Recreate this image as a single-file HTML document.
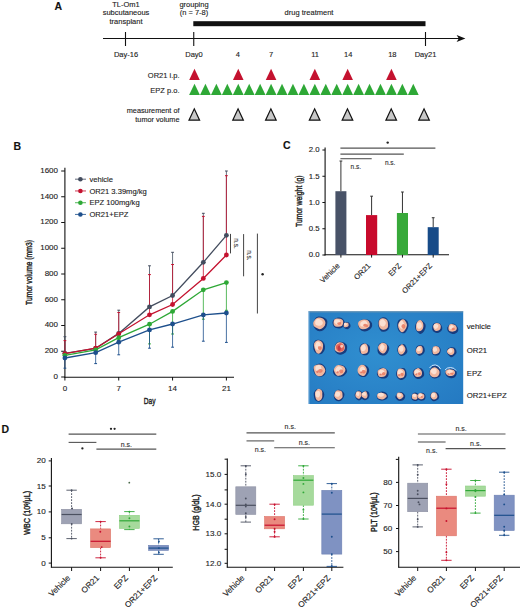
<!DOCTYPE html>
<html><head><meta charset="utf-8"><style>
html,body{margin:0;padding:0;background:#fff;}
body{width:520px;height:610px;overflow:hidden;}
svg{display:block;font-family:"Liberation Sans", sans-serif;}
svg text{stroke:#222;stroke-width:0.12px;}
svg text.ax{stroke-width:0.4px;}
</style></head><body>
<svg width="520" height="610" viewBox="0 0 520 610">
<rect width="520" height="610" fill="#fff"/>
<text x="54.40" y="10.30" font-size="10.5" text-anchor="start" fill="#111" font-weight="bold" >A</text>
<text x="126.00" y="6.70" font-size="7.5" text-anchor="middle" fill="#222" font-weight="normal" >TL-Om1</text>
<text x="126.00" y="15.30" font-size="7.5" text-anchor="middle" fill="#222" font-weight="normal" >subcutaneous</text>
<text x="126.00" y="23.90" font-size="7.5" text-anchor="middle" fill="#222" font-weight="normal" >transplant</text>
<text x="194.00" y="6.70" font-size="7.5" text-anchor="middle" fill="#222" font-weight="normal" >grouping</text>
<text x="194.00" y="15.30" font-size="7.5" text-anchor="middle" fill="#222" font-weight="normal" >(n = 7-8)</text>
<text x="309.00" y="15.30" font-size="7.5" text-anchor="middle" fill="#222" font-weight="normal" >drug treatment</text>
<rect x="193.3" y="21.2" width="232.2" height="5" fill="#111"/>
<line x1="103.00" y1="38.50" x2="459.50" y2="38.50" stroke="#111" stroke-width="1.1" />
<polygon points="456.6,34.9 465.4,38.5 456.6,42.1 458.8,38.5" fill="#111"/>
<line x1="125.50" y1="32.00" x2="125.50" y2="46.00" stroke="#111" stroke-width="1.1" />
<line x1="193.75" y1="32.00" x2="193.75" y2="46.00" stroke="#111" stroke-width="1.1" />
<line x1="425.50" y1="32.00" x2="425.50" y2="46.00" stroke="#111" stroke-width="1.1" />
<text x="126.00" y="57.20" font-size="7.5" text-anchor="middle" fill="#222" font-weight="normal" >Day-16</text>
<text x="194.00" y="57.20" font-size="7.5" text-anchor="middle" fill="#222" font-weight="normal" >Day0</text>
<text x="425.50" y="57.20" font-size="7.5" text-anchor="middle" fill="#222" font-weight="normal" >Day21</text>
<text x="237.89" y="57.20" font-size="7.5" text-anchor="middle" fill="#222" font-weight="normal" >4</text>
<text x="271.00" y="57.20" font-size="7.5" text-anchor="middle" fill="#222" font-weight="normal" >7</text>
<text x="315.14" y="57.20" font-size="7.5" text-anchor="middle" fill="#222" font-weight="normal" >11</text>
<text x="348.25" y="57.20" font-size="7.5" text-anchor="middle" fill="#222" font-weight="normal" >14</text>
<text x="392.39" y="57.20" font-size="7.5" text-anchor="middle" fill="#222" font-weight="normal" >18</text>
<text x="179.50" y="78.40" font-size="7.5" text-anchor="end" fill="#222" font-weight="normal" >OR21 i.p.</text>
<text x="179.50" y="93.40" font-size="7.5" text-anchor="end" fill="#222" font-weight="normal" >EPZ p.o.</text>
<text x="179.50" y="113.40" font-size="7.3" text-anchor="end" fill="#222" font-weight="normal" >measurement of</text>
<text x="179.50" y="122.40" font-size="7.3" text-anchor="end" fill="#222" font-weight="normal" >tumor volume</text>
<polygon points="189.20,80.00 199.80,80.00 194.50,68.80" fill="#c4122f" stroke="none" stroke-width="0" stroke-linejoin="miter"/>
<polygon points="232.96,80.00 243.56,80.00 238.26,68.80" fill="#c4122f" stroke="none" stroke-width="0" stroke-linejoin="miter"/>
<polygon points="265.78,80.00 276.38,80.00 271.08,68.80" fill="#c4122f" stroke="none" stroke-width="0" stroke-linejoin="miter"/>
<polygon points="309.54,80.00 320.14,80.00 314.84,68.80" fill="#c4122f" stroke="none" stroke-width="0" stroke-linejoin="miter"/>
<polygon points="342.36,80.00 352.96,80.00 347.66,68.80" fill="#c4122f" stroke="none" stroke-width="0" stroke-linejoin="miter"/>
<polygon points="386.12,80.00 396.72,80.00 391.42,68.80" fill="#c4122f" stroke="none" stroke-width="0" stroke-linejoin="miter"/>
<polygon points="189.10,95.00 199.90,95.00 194.50,83.80" fill="#2ea836" stroke="none" stroke-width="0" stroke-linejoin="miter"/>
<polygon points="200.04,95.00 210.84,95.00 205.44,83.80" fill="#2ea836" stroke="none" stroke-width="0" stroke-linejoin="miter"/>
<polygon points="210.98,95.00 221.78,95.00 216.38,83.80" fill="#2ea836" stroke="none" stroke-width="0" stroke-linejoin="miter"/>
<polygon points="221.92,95.00 232.72,95.00 227.32,83.80" fill="#2ea836" stroke="none" stroke-width="0" stroke-linejoin="miter"/>
<polygon points="232.86,95.00 243.66,95.00 238.26,83.80" fill="#2ea836" stroke="none" stroke-width="0" stroke-linejoin="miter"/>
<polygon points="243.80,95.00 254.60,95.00 249.20,83.80" fill="#2ea836" stroke="none" stroke-width="0" stroke-linejoin="miter"/>
<polygon points="254.74,95.00 265.54,95.00 260.14,83.80" fill="#2ea836" stroke="none" stroke-width="0" stroke-linejoin="miter"/>
<polygon points="265.68,95.00 276.48,95.00 271.08,83.80" fill="#2ea836" stroke="none" stroke-width="0" stroke-linejoin="miter"/>
<polygon points="276.62,95.00 287.42,95.00 282.02,83.80" fill="#2ea836" stroke="none" stroke-width="0" stroke-linejoin="miter"/>
<polygon points="287.56,95.00 298.36,95.00 292.96,83.80" fill="#2ea836" stroke="none" stroke-width="0" stroke-linejoin="miter"/>
<polygon points="298.50,95.00 309.30,95.00 303.90,83.80" fill="#2ea836" stroke="none" stroke-width="0" stroke-linejoin="miter"/>
<polygon points="309.44,95.00 320.24,95.00 314.84,83.80" fill="#2ea836" stroke="none" stroke-width="0" stroke-linejoin="miter"/>
<polygon points="320.38,95.00 331.18,95.00 325.78,83.80" fill="#2ea836" stroke="none" stroke-width="0" stroke-linejoin="miter"/>
<polygon points="331.32,95.00 342.12,95.00 336.72,83.80" fill="#2ea836" stroke="none" stroke-width="0" stroke-linejoin="miter"/>
<polygon points="342.26,95.00 353.06,95.00 347.66,83.80" fill="#2ea836" stroke="none" stroke-width="0" stroke-linejoin="miter"/>
<polygon points="353.20,95.00 364.00,95.00 358.60,83.80" fill="#2ea836" stroke="none" stroke-width="0" stroke-linejoin="miter"/>
<polygon points="364.14,95.00 374.94,95.00 369.54,83.80" fill="#2ea836" stroke="none" stroke-width="0" stroke-linejoin="miter"/>
<polygon points="375.08,95.00 385.88,95.00 380.48,83.80" fill="#2ea836" stroke="none" stroke-width="0" stroke-linejoin="miter"/>
<polygon points="386.02,95.00 396.82,95.00 391.42,83.80" fill="#2ea836" stroke="none" stroke-width="0" stroke-linejoin="miter"/>
<polygon points="396.96,95.00 407.76,95.00 402.36,83.80" fill="#2ea836" stroke="none" stroke-width="0" stroke-linejoin="miter"/>
<polygon points="407.90,95.00 418.70,95.00 413.30,83.80" fill="#2ea836" stroke="none" stroke-width="0" stroke-linejoin="miter"/>
<polygon points="189.00,120.20 199.60,120.20 194.30,108.80" fill="#c8c8c8" stroke="#111" stroke-width="1.2" stroke-linejoin="miter"/>
<polygon points="232.76,120.20 243.36,120.20 238.06,108.80" fill="#c8c8c8" stroke="#111" stroke-width="1.2" stroke-linejoin="miter"/>
<polygon points="265.58,120.20 276.18,120.20 270.88,108.80" fill="#c8c8c8" stroke="#111" stroke-width="1.2" stroke-linejoin="miter"/>
<polygon points="309.34,120.20 319.94,120.20 314.64,108.80" fill="#c8c8c8" stroke="#111" stroke-width="1.2" stroke-linejoin="miter"/>
<polygon points="342.16,120.20 352.76,120.20 347.46,108.80" fill="#c8c8c8" stroke="#111" stroke-width="1.2" stroke-linejoin="miter"/>
<polygon points="385.92,120.20 396.52,120.20 391.22,108.80" fill="#c8c8c8" stroke="#111" stroke-width="1.2" stroke-linejoin="miter"/>
<polygon points="418.74,120.20 429.34,120.20 424.04,108.80" fill="#c8c8c8" stroke="#111" stroke-width="1.2" stroke-linejoin="miter"/>
<text x="13.60" y="149.90" font-size="10.5" text-anchor="start" fill="#111" font-weight="bold" >B</text>
<line x1="64.90" y1="167.80" x2="64.90" y2="377.80" stroke="#111" stroke-width="1.1" />
<line x1="64.40" y1="377.30" x2="234.00" y2="377.30" stroke="#111" stroke-width="1.1" />
<line x1="61.20" y1="377.00" x2="64.90" y2="377.00" stroke="#111" stroke-width="1" />
<text x="58.00" y="378.90" font-size="8" text-anchor="end" fill="#222" font-weight="normal" >0</text>
<line x1="61.20" y1="351.25" x2="64.90" y2="351.25" stroke="#111" stroke-width="1" />
<text x="58.00" y="353.15" font-size="8" text-anchor="end" fill="#222" font-weight="normal" >200</text>
<line x1="61.20" y1="325.50" x2="64.90" y2="325.50" stroke="#111" stroke-width="1" />
<text x="58.00" y="327.40" font-size="8" text-anchor="end" fill="#222" font-weight="normal" >400</text>
<line x1="61.20" y1="299.75" x2="64.90" y2="299.75" stroke="#111" stroke-width="1" />
<text x="58.00" y="301.65" font-size="8" text-anchor="end" fill="#222" font-weight="normal" >600</text>
<line x1="61.20" y1="274.00" x2="64.90" y2="274.00" stroke="#111" stroke-width="1" />
<text x="58.00" y="275.90" font-size="8" text-anchor="end" fill="#222" font-weight="normal" >800</text>
<line x1="61.20" y1="248.25" x2="64.90" y2="248.25" stroke="#111" stroke-width="1" />
<text x="58.00" y="250.15" font-size="8" text-anchor="end" fill="#222" font-weight="normal" >1000</text>
<line x1="61.20" y1="222.50" x2="64.90" y2="222.50" stroke="#111" stroke-width="1" />
<text x="58.00" y="224.40" font-size="8" text-anchor="end" fill="#222" font-weight="normal" >1200</text>
<line x1="61.20" y1="196.75" x2="64.90" y2="196.75" stroke="#111" stroke-width="1" />
<text x="58.00" y="198.65" font-size="8" text-anchor="end" fill="#222" font-weight="normal" >1400</text>
<line x1="61.20" y1="171.00" x2="64.90" y2="171.00" stroke="#111" stroke-width="1" />
<text x="58.00" y="172.90" font-size="8" text-anchor="end" fill="#222" font-weight="normal" >1600</text>
<line x1="64.90" y1="377.00" x2="64.90" y2="380.50" stroke="#111" stroke-width="1" />
<text x="64.90" y="391.20" font-size="8" text-anchor="middle" fill="#222" font-weight="normal" >0</text>
<line x1="118.73" y1="377.00" x2="118.73" y2="380.50" stroke="#111" stroke-width="1" />
<text x="118.73" y="391.20" font-size="8" text-anchor="middle" fill="#222" font-weight="normal" >7</text>
<line x1="172.57" y1="377.00" x2="172.57" y2="380.50" stroke="#111" stroke-width="1" />
<text x="172.57" y="391.20" font-size="8" text-anchor="middle" fill="#222" font-weight="normal" >14</text>
<line x1="226.40" y1="377.00" x2="226.40" y2="380.50" stroke="#111" stroke-width="1" />
<text x="226.40" y="391.20" font-size="8" text-anchor="middle" fill="#222" font-weight="normal" >21</text>
<text x="0" y="0" font-size="9.6" text-anchor="middle" fill="#222" class="ax" transform="translate(149.6 403.7) scale(0.69 1)">Day</text>
<text x="0" y="0" text-anchor="middle" fill="#222" class="ax" transform="translate(32.3 272.5) rotate(-90) scale(0.76 1)" font-size="9">Tumor volume (mm3)</text>
<line x1="64.90" y1="353.30" x2="64.90" y2="336.70" stroke="#434c5e" stroke-width="0.8" />
<line x1="63.50" y1="336.70" x2="66.30" y2="336.70" stroke="#434c5e" stroke-width="1" />
<line x1="95.66" y1="348.30" x2="95.66" y2="332.10" stroke="#434c5e" stroke-width="0.8" />
<line x1="94.26" y1="332.10" x2="97.06" y2="332.10" stroke="#434c5e" stroke-width="1" />
<line x1="118.73" y1="333.40" x2="118.73" y2="310.20" stroke="#434c5e" stroke-width="0.8" />
<line x1="117.33" y1="310.20" x2="120.13" y2="310.20" stroke="#434c5e" stroke-width="1" />
<line x1="149.50" y1="306.90" x2="149.50" y2="265.80" stroke="#434c5e" stroke-width="0.8" />
<line x1="148.10" y1="265.80" x2="150.90" y2="265.80" stroke="#434c5e" stroke-width="1" />
<line x1="172.57" y1="295.50" x2="172.57" y2="252.30" stroke="#434c5e" stroke-width="0.8" />
<line x1="171.17" y1="252.30" x2="173.97" y2="252.30" stroke="#434c5e" stroke-width="1" />
<line x1="203.33" y1="262.30" x2="203.33" y2="213.30" stroke="#434c5e" stroke-width="0.8" />
<line x1="201.93" y1="213.30" x2="204.73" y2="213.30" stroke="#434c5e" stroke-width="1" />
<line x1="226.40" y1="235.30" x2="226.40" y2="171.00" stroke="#434c5e" stroke-width="0.8" />
<line x1="225.00" y1="171.00" x2="227.80" y2="171.00" stroke="#434c5e" stroke-width="1" />
<line x1="64.90" y1="353.70" x2="64.90" y2="340.60" stroke="#c4122f" stroke-width="0.8" />
<line x1="63.50" y1="340.60" x2="66.30" y2="340.60" stroke="#c4122f" stroke-width="1" />
<line x1="95.66" y1="348.20" x2="95.66" y2="334.30" stroke="#c4122f" stroke-width="0.8" />
<line x1="94.26" y1="334.30" x2="97.06" y2="334.30" stroke="#c4122f" stroke-width="1" />
<line x1="118.73" y1="333.80" x2="118.73" y2="312.50" stroke="#c4122f" stroke-width="0.8" />
<line x1="117.33" y1="312.50" x2="120.13" y2="312.50" stroke="#c4122f" stroke-width="1" />
<line x1="149.50" y1="314.80" x2="149.50" y2="274.60" stroke="#c4122f" stroke-width="0.8" />
<line x1="148.10" y1="274.60" x2="150.90" y2="274.60" stroke="#c4122f" stroke-width="1" />
<line x1="172.57" y1="304.50" x2="172.57" y2="264.50" stroke="#c4122f" stroke-width="0.8" />
<line x1="171.17" y1="264.50" x2="173.97" y2="264.50" stroke="#c4122f" stroke-width="1" />
<line x1="203.33" y1="278.40" x2="203.33" y2="216.40" stroke="#c4122f" stroke-width="0.8" />
<line x1="201.93" y1="216.40" x2="204.73" y2="216.40" stroke="#c4122f" stroke-width="1" />
<line x1="226.40" y1="255.00" x2="226.40" y2="175.70" stroke="#c4122f" stroke-width="0.8" />
<line x1="225.00" y1="175.70" x2="227.80" y2="175.70" stroke="#c4122f" stroke-width="1" />
<line x1="64.90" y1="355.30" x2="64.90" y2="357.00" stroke="#2ea836" stroke-width="0.8" />
<line x1="63.50" y1="357.00" x2="66.30" y2="357.00" stroke="#2ea836" stroke-width="1" />
<line x1="95.66" y1="349.80" x2="95.66" y2="351.50" stroke="#2ea836" stroke-width="0.8" />
<line x1="94.26" y1="351.50" x2="97.06" y2="351.50" stroke="#2ea836" stroke-width="1" />
<line x1="118.73" y1="337.70" x2="118.73" y2="340.00" stroke="#2ea836" stroke-width="0.8" />
<line x1="117.33" y1="340.00" x2="120.13" y2="340.00" stroke="#2ea836" stroke-width="1" />
<line x1="149.50" y1="324.20" x2="149.50" y2="343.90" stroke="#2ea836" stroke-width="0.8" />
<line x1="148.10" y1="343.90" x2="150.90" y2="343.90" stroke="#2ea836" stroke-width="1" />
<line x1="172.57" y1="311.40" x2="172.57" y2="334.00" stroke="#2ea836" stroke-width="0.8" />
<line x1="171.17" y1="334.00" x2="173.97" y2="334.00" stroke="#2ea836" stroke-width="1" />
<line x1="203.33" y1="289.80" x2="203.33" y2="319.20" stroke="#2ea836" stroke-width="0.8" />
<line x1="201.93" y1="319.20" x2="204.73" y2="319.20" stroke="#2ea836" stroke-width="1" />
<line x1="226.40" y1="282.60" x2="226.40" y2="310.30" stroke="#2ea836" stroke-width="0.8" />
<line x1="225.00" y1="310.30" x2="227.80" y2="310.30" stroke="#2ea836" stroke-width="1" />
<line x1="64.90" y1="358.00" x2="64.90" y2="368.20" stroke="#1d4f8c" stroke-width="0.8" />
<line x1="63.50" y1="368.20" x2="66.30" y2="368.20" stroke="#1d4f8c" stroke-width="1" />
<line x1="95.66" y1="352.70" x2="95.66" y2="363.60" stroke="#1d4f8c" stroke-width="0.8" />
<line x1="94.26" y1="363.60" x2="97.06" y2="363.60" stroke="#1d4f8c" stroke-width="1" />
<line x1="118.73" y1="342.20" x2="118.73" y2="354.80" stroke="#1d4f8c" stroke-width="0.8" />
<line x1="117.33" y1="354.80" x2="120.13" y2="354.80" stroke="#1d4f8c" stroke-width="1" />
<line x1="149.50" y1="329.90" x2="149.50" y2="348.20" stroke="#1d4f8c" stroke-width="0.8" />
<line x1="148.10" y1="348.20" x2="150.90" y2="348.20" stroke="#1d4f8c" stroke-width="1" />
<line x1="172.57" y1="324.00" x2="172.57" y2="347.20" stroke="#1d4f8c" stroke-width="0.8" />
<line x1="171.17" y1="347.20" x2="173.97" y2="347.20" stroke="#1d4f8c" stroke-width="1" />
<line x1="203.33" y1="314.90" x2="203.33" y2="341.20" stroke="#1d4f8c" stroke-width="0.8" />
<line x1="201.93" y1="341.20" x2="204.73" y2="341.20" stroke="#1d4f8c" stroke-width="1" />
<line x1="226.40" y1="313.00" x2="226.40" y2="342.40" stroke="#1d4f8c" stroke-width="0.8" />
<line x1="225.00" y1="342.40" x2="227.80" y2="342.40" stroke="#1d4f8c" stroke-width="1" />
<polyline points="64.90,353.30 95.66,348.30 118.73,333.40 149.50,306.90 172.57,295.50 203.33,262.30 226.40,235.30" fill="none" stroke="#434c5e" stroke-width="1.3"/>
<circle cx="64.90" cy="353.30" r="2.4" fill="#434c5e"/>
<circle cx="95.66" cy="348.30" r="2.4" fill="#434c5e"/>
<circle cx="118.73" cy="333.40" r="2.4" fill="#434c5e"/>
<circle cx="149.50" cy="306.90" r="2.4" fill="#434c5e"/>
<circle cx="172.57" cy="295.50" r="2.4" fill="#434c5e"/>
<circle cx="203.33" cy="262.30" r="2.4" fill="#434c5e"/>
<circle cx="226.40" cy="235.30" r="2.4" fill="#434c5e"/>
<polyline points="64.90,353.70 95.66,348.20 118.73,333.80 149.50,314.80 172.57,304.50 203.33,278.40 226.40,255.00" fill="none" stroke="#c4122f" stroke-width="1.3"/>
<circle cx="64.90" cy="353.70" r="2.4" fill="#c4122f"/>
<circle cx="95.66" cy="348.20" r="2.4" fill="#c4122f"/>
<circle cx="118.73" cy="333.80" r="2.4" fill="#c4122f"/>
<circle cx="149.50" cy="314.80" r="2.4" fill="#c4122f"/>
<circle cx="172.57" cy="304.50" r="2.4" fill="#c4122f"/>
<circle cx="203.33" cy="278.40" r="2.4" fill="#c4122f"/>
<circle cx="226.40" cy="255.00" r="2.4" fill="#c4122f"/>
<polyline points="64.90,355.30 95.66,349.80 118.73,337.70 149.50,324.20 172.57,311.40 203.33,289.80 226.40,282.60" fill="none" stroke="#2ea836" stroke-width="1.3"/>
<circle cx="64.90" cy="355.30" r="2.4" fill="#2ea836"/>
<circle cx="95.66" cy="349.80" r="2.4" fill="#2ea836"/>
<circle cx="118.73" cy="337.70" r="2.4" fill="#2ea836"/>
<circle cx="149.50" cy="324.20" r="2.4" fill="#2ea836"/>
<circle cx="172.57" cy="311.40" r="2.4" fill="#2ea836"/>
<circle cx="203.33" cy="289.80" r="2.4" fill="#2ea836"/>
<circle cx="226.40" cy="282.60" r="2.4" fill="#2ea836"/>
<polyline points="64.90,358.00 95.66,352.70 118.73,342.20 149.50,329.90 172.57,324.00 203.33,314.90 226.40,313.00" fill="none" stroke="#1d4f8c" stroke-width="1.3"/>
<circle cx="64.90" cy="358.00" r="2.4" fill="#1d4f8c"/>
<circle cx="95.66" cy="352.70" r="2.4" fill="#1d4f8c"/>
<circle cx="118.73" cy="342.20" r="2.4" fill="#1d4f8c"/>
<circle cx="149.50" cy="329.90" r="2.4" fill="#1d4f8c"/>
<circle cx="172.57" cy="324.00" r="2.4" fill="#1d4f8c"/>
<circle cx="203.33" cy="314.90" r="2.4" fill="#1d4f8c"/>
<circle cx="226.40" cy="313.00" r="2.4" fill="#1d4f8c"/>
<line x1="75.00" y1="179.20" x2="86.00" y2="179.20" stroke="#434c5e" stroke-width="1.1" opacity="0.75"/>
<circle cx="80.4" cy="179.20" r="2.3" fill="#434c5e"/>
<text x="89.40" y="181.80" font-size="7.6" text-anchor="start" fill="#222" font-weight="normal" >vehicle</text>
<line x1="75.00" y1="190.95" x2="86.00" y2="190.95" stroke="#c4122f" stroke-width="1.1" opacity="0.75"/>
<circle cx="80.4" cy="190.95" r="2.3" fill="#c4122f"/>
<text x="89.40" y="193.55" font-size="7.6" text-anchor="start" fill="#222" font-weight="normal" >OR21 3.39mg/kg</text>
<line x1="75.00" y1="202.70" x2="86.00" y2="202.70" stroke="#2ea836" stroke-width="1.1" opacity="0.75"/>
<circle cx="80.4" cy="202.70" r="2.3" fill="#2ea836"/>
<text x="89.40" y="205.30" font-size="7.6" text-anchor="start" fill="#222" font-weight="normal" >EPZ 100mg/kg</text>
<line x1="75.00" y1="214.45" x2="86.00" y2="214.45" stroke="#1d4f8c" stroke-width="1.1" opacity="0.75"/>
<circle cx="80.4" cy="214.45" r="2.3" fill="#1d4f8c"/>
<text x="89.40" y="217.05" font-size="7.6" text-anchor="start" fill="#222" font-weight="normal" >OR21+EPZ</text>
<line x1="230.50" y1="233.90" x2="230.50" y2="253.40" stroke="#444" stroke-width="1" />
<line x1="243.60" y1="234.10" x2="243.60" y2="276.30" stroke="#444" stroke-width="1" />
<line x1="257.40" y1="233.60" x2="257.40" y2="313.50" stroke="#444" stroke-width="1" />
<text x="0" y="0" font-size="6.5" text-anchor="middle" fill="#333" transform="translate(233.6 243.5) rotate(90)">n.s.</text>
<text x="0" y="0" font-size="6.5" text-anchor="middle" fill="#333" transform="translate(247.1 255.4) rotate(90)">n.s.</text>
<circle cx="262.6" cy="274.2" r="1.2" fill="#222"/>
<text x="283.00" y="149.40" font-size="10.5" text-anchor="start" fill="#111" font-weight="bold" >C</text>
<line x1="325.10" y1="147.50" x2="325.10" y2="255.50" stroke="#111" stroke-width="1.1" />
<line x1="324.60" y1="254.70" x2="449.00" y2="254.70" stroke="#111" stroke-width="1.1" />
<line x1="322.40" y1="255.00" x2="325.10" y2="255.00" stroke="#111" stroke-width="1" />
<text x="319.60" y="257.30" font-size="7.8" text-anchor="end" fill="#222" font-weight="normal" >0.0</text>
<line x1="322.40" y1="228.75" x2="325.10" y2="228.75" stroke="#111" stroke-width="1" />
<text x="319.60" y="231.05" font-size="7.8" text-anchor="end" fill="#222" font-weight="normal" >0.5</text>
<line x1="322.40" y1="202.50" x2="325.10" y2="202.50" stroke="#111" stroke-width="1" />
<text x="319.60" y="204.80" font-size="7.8" text-anchor="end" fill="#222" font-weight="normal" >1.0</text>
<line x1="322.40" y1="176.25" x2="325.10" y2="176.25" stroke="#111" stroke-width="1" />
<text x="319.60" y="178.55" font-size="7.8" text-anchor="end" fill="#222" font-weight="normal" >1.5</text>
<line x1="322.40" y1="150.00" x2="325.10" y2="150.00" stroke="#111" stroke-width="1" />
<text x="319.60" y="152.30" font-size="7.8" text-anchor="end" fill="#222" font-weight="normal" >2.0</text>
<text x="0" y="0" font-size="9" text-anchor="middle" fill="#222" class="ax" transform="translate(301.6 201.2) rotate(-90) scale(0.765 1)">Tumor weight (g)</text>
<rect x="335.4" y="191.21" width="11.00" height="63.79" fill="#485267"/>
<line x1="340.90" y1="191.21" x2="340.90" y2="161.02" stroke="#333" stroke-width="1" />
<line x1="339.50" y1="161.02" x2="342.30" y2="161.02" stroke="#333" stroke-width="1" />
<line x1="340.90" y1="254.70" x2="340.90" y2="257.60" stroke="#111" stroke-width="1" />
<text x="0" y="0" font-size="7.6" text-anchor="end" fill="#222" transform="translate(340.30 266.3) rotate(-45)">Vehicle</text>
<rect x="366" y="215.10" width="11.20" height="39.90" fill="#c80a2c"/>
<line x1="371.60" y1="215.10" x2="371.60" y2="196.20" stroke="#333" stroke-width="1" />
<line x1="370.20" y1="196.20" x2="373.00" y2="196.20" stroke="#333" stroke-width="1" />
<line x1="371.60" y1="254.70" x2="371.60" y2="257.60" stroke="#111" stroke-width="1" />
<text x="0" y="0" font-size="7.6" text-anchor="end" fill="#222" transform="translate(371.00 266.3) rotate(-45)">OR21</text>
<rect x="396.9" y="213.00" width="11.10" height="42.00" fill="#38a93a"/>
<line x1="402.45" y1="213.00" x2="402.45" y2="192.00" stroke="#333" stroke-width="1" />
<line x1="401.05" y1="192.00" x2="403.85" y2="192.00" stroke="#333" stroke-width="1" />
<line x1="402.45" y1="254.70" x2="402.45" y2="257.60" stroke="#111" stroke-width="1" />
<text x="0" y="0" font-size="7.6" text-anchor="end" fill="#222" transform="translate(401.85 266.3) rotate(-45)">EPZ</text>
<rect x="427.7" y="227.18" width="11.00" height="27.82" fill="#174b88"/>
<line x1="433.20" y1="227.18" x2="433.20" y2="217.72" stroke="#333" stroke-width="1" />
<line x1="431.80" y1="217.72" x2="434.60" y2="217.72" stroke="#333" stroke-width="1" />
<line x1="433.20" y1="254.70" x2="433.20" y2="257.60" stroke="#111" stroke-width="1" />
<text x="0" y="0" font-size="7.6" text-anchor="end" fill="#222" transform="translate(432.60 266.3) rotate(-45)">OR21+EPZ</text>
<line x1="340.40" y1="148.10" x2="435.40" y2="148.10" stroke="#555" stroke-width="1.1" />
<line x1="340.40" y1="154.10" x2="403.80" y2="154.10" stroke="#555" stroke-width="1.1" />
<line x1="340.40" y1="158.70" x2="371.70" y2="158.70" stroke="#555" stroke-width="1.1" />
<circle cx="387.7" cy="142.6" r="1.2" fill="#222"/>
<text x="355.80" y="168.70" font-size="6.5" text-anchor="middle" fill="#333" font-weight="normal" >n.s.</text>
<text x="390.20" y="164.60" font-size="6.5" text-anchor="middle" fill="#333" font-weight="normal" >n.s.</text>
<defs><radialGradient id="pg" cx="0.45" cy="0.45" r="0.75"><stop offset="0" stop-color="#308fd0"/><stop offset="1" stop-color="#257ac2"/></radialGradient></defs>
<rect x="308.6" y="311.2" width="154.6" height="92.8" fill="url(#pg)"/>
<rect x="308.6" y="311.2" width="154.6" height="1.2" fill="#7898b0" opacity="0.8"/>
<rect x="308.6" y="311.2" width="1" height="92.8" fill="#7fb0d8" opacity="0.7"/>
<text x="466.70" y="329.30" font-size="7.8" text-anchor="start" fill="#222" font-weight="normal" >vehicle</text>
<text x="466.70" y="353.00" font-size="7.8" text-anchor="start" fill="#222" font-weight="normal" >OR21</text>
<text x="466.70" y="375.60" font-size="7.8" text-anchor="start" fill="#222" font-weight="normal" >EPZ</text>
<text x="466.70" y="398.00" font-size="7.8" text-anchor="start" fill="#222" font-weight="normal" >OR21+EPZ</text>
<path d="M327.28 321.01 Q327.65 323.41 326.65 326.09 Q325.65 328.78 323.60 330.10 Q321.54 331.43 319.43 331.27 Q317.32 331.11 315.40 329.29 Q313.48 327.46 313.33 324.83 Q313.19 322.19 314.61 319.44 Q316.04 316.70 318.40 316.48 Q320.76 316.26 323.83 317.44 Q326.90 318.61 327.28 321.01 Z" fill="#13296a" opacity="0.8"/>
<path d="M325.01 321.03 Q326.18 323.35 324.87 325.41 Q323.56 327.47 321.89 328.45 Q320.21 329.43 318.83 329.01 Q317.45 328.58 315.29 327.35 Q313.12 326.12 313.18 323.80 Q313.24 321.48 315.05 319.49 Q316.87 317.51 318.87 317.52 Q320.87 317.54 322.35 318.13 Q323.83 318.72 325.01 321.03 Z" fill="#f1b79f"/>
<path d="M322.47 321.52 Q323.07 322.60 322.66 323.84 Q322.25 325.08 320.70 325.53 Q319.15 325.97 317.43 325.53 Q315.71 325.09 315.31 323.90 Q314.90 322.71 315.35 320.96 Q315.80 319.22 317.58 319.03 Q319.36 318.85 320.62 319.64 Q321.88 320.43 322.47 321.52 Z" fill="#fbe0d2"/>
<path d="M344.33 321.10 Q345.16 322.95 344.48 324.65 Q343.80 326.34 342.16 327.55 Q340.52 328.77 337.68 328.35 Q334.83 327.93 333.65 326.18 Q332.46 324.42 332.50 322.59 Q332.54 320.77 334.00 319.41 Q335.46 318.04 337.91 317.58 Q340.37 317.12 341.94 318.18 Q343.50 319.24 344.33 321.10 Z" fill="#13296a" opacity="0.8"/>
<path d="M342.91 320.46 Q343.49 321.86 342.96 323.98 Q342.44 326.10 340.41 326.43 Q338.38 326.77 336.90 326.77 Q335.42 326.78 334.45 325.71 Q333.47 324.65 333.53 323.08 Q333.58 321.50 334.07 320.02 Q334.56 318.54 336.43 318.41 Q338.30 318.28 340.32 318.67 Q342.33 319.06 342.91 320.46 Z" fill="#f1b79f"/>
<path d="M339.91 320.53 Q340.43 321.37 340.16 322.64 Q339.89 323.91 338.42 324.33 Q336.95 324.74 336.10 324.19 Q335.25 323.64 334.42 322.74 Q333.58 321.83 334.60 320.85 Q335.63 319.87 336.32 319.60 Q337.02 319.33 338.20 319.51 Q339.38 319.68 339.91 320.53 Z" fill="#fbe0d2"/>
<path d="M341.06 322.78 Q341.13 323.46 340.95 323.98 Q340.76 324.50 339.83 324.80 Q338.90 325.10 338.02 324.54 Q337.13 323.98 337.23 323.32 Q337.32 322.65 338.17 322.40 Q339.02 322.15 340.01 322.12 Q340.99 322.10 341.06 322.78 Z" fill="#e8795f" opacity="0.85"/>
<path d="M350.20 324.32 Q350.86 326.05 350.33 326.98 Q349.79 327.91 348.84 328.61 Q347.88 329.32 346.58 329.09 Q345.28 328.87 344.27 327.99 Q343.27 327.12 343.21 325.84 Q343.15 324.55 343.75 323.67 Q344.34 322.80 345.63 322.34 Q346.91 321.89 348.22 322.24 Q349.53 322.60 350.20 324.32 Z" fill="#13296a" opacity="0.8"/>
<path d="M348.51 323.93 Q348.68 325.08 348.52 325.76 Q348.36 326.44 347.54 326.84 Q346.73 327.23 345.51 327.33 Q344.29 327.44 343.94 326.67 Q343.59 325.91 343.71 325.20 Q343.82 324.49 344.31 323.74 Q344.80 322.98 345.84 322.87 Q346.87 322.77 347.60 322.77 Q348.34 322.78 348.51 323.93 Z" fill="#f1b79f"/>
<path d="M346.76 323.71 Q346.99 324.21 346.74 324.64 Q346.48 325.08 345.98 325.54 Q345.48 326.00 344.76 325.61 Q344.04 325.22 343.95 324.76 Q343.86 324.30 343.94 323.72 Q344.01 323.14 344.76 322.83 Q345.52 322.52 346.03 322.86 Q346.53 323.20 346.76 323.71 Z" fill="#fbe0d2"/>
<path d="M372.03 323.57 Q372.64 325.74 371.36 327.84 Q370.09 329.93 367.70 330.83 Q365.31 331.72 363.42 331.31 Q361.53 330.90 359.95 329.13 Q358.38 327.36 358.05 325.60 Q357.71 323.83 359.07 321.73 Q360.42 319.64 363.68 319.35 Q366.95 319.06 369.19 320.23 Q371.43 321.39 372.03 323.57 Z" fill="#13296a" opacity="0.8"/>
<path d="M369.64 323.33 Q370.08 325.18 369.45 326.21 Q368.82 327.24 367.25 328.14 Q365.67 329.04 363.08 329.26 Q360.48 329.47 359.35 327.62 Q358.23 325.76 358.08 324.04 Q357.93 322.31 359.10 321.22 Q360.26 320.14 363.22 319.61 Q366.18 319.08 367.69 320.28 Q369.20 321.49 369.64 323.33 Z" fill="#f1b79f"/>
<path d="M367.00 322.21 Q367.77 323.38 367.23 324.67 Q366.69 325.97 364.84 326.26 Q362.98 326.56 361.69 326.42 Q360.39 326.29 360.28 324.91 Q360.17 323.52 360.54 322.80 Q360.91 322.08 362.47 321.21 Q364.02 320.34 365.13 320.69 Q366.23 321.05 367.00 322.21 Z" fill="#fbe0d2"/>
<path d="M367.81 325.11 Q368.40 325.83 367.91 326.41 Q367.42 326.98 366.48 326.97 Q365.54 326.95 364.37 326.55 Q363.21 326.15 363.13 325.34 Q363.04 324.54 364.04 323.96 Q365.04 323.39 366.13 323.89 Q367.23 324.39 367.81 325.11 Z" fill="#e8795f" opacity="0.85"/>
<path d="M389.19 321.99 Q389.98 323.95 389.55 326.47 Q389.11 328.98 387.30 330.38 Q385.49 331.77 383.42 331.85 Q381.35 331.92 379.83 329.65 Q378.31 327.39 378.08 324.47 Q377.86 321.54 379.21 319.56 Q380.56 317.58 382.82 317.28 Q385.09 316.98 386.75 318.50 Q388.41 320.03 389.19 321.99 Z" fill="#13296a" opacity="0.8"/>
<path d="M387.79 321.99 Q387.99 323.80 388.08 325.68 Q388.17 327.56 386.50 328.79 Q384.84 330.01 382.75 329.66 Q380.66 329.31 379.77 327.86 Q378.87 326.41 378.64 323.91 Q378.41 321.40 379.43 320.04 Q380.45 318.67 382.20 318.33 Q383.96 317.99 385.77 319.09 Q387.59 320.19 387.79 321.99 Z" fill="#f1b79f"/>
<path d="M385.62 322.12 Q386.22 323.18 385.44 324.57 Q384.66 325.96 383.68 326.39 Q382.70 326.82 381.56 326.37 Q380.43 325.92 380.04 324.54 Q379.66 323.15 379.93 321.59 Q380.20 320.03 381.61 319.43 Q383.01 318.84 384.02 319.95 Q385.03 321.06 385.62 322.12 Z" fill="#fbe0d2"/>
<path d="M408.41 323.61 Q408.91 326.05 407.71 328.68 Q406.51 331.31 405.42 332.40 Q404.33 333.50 402.45 333.24 Q400.56 332.98 398.98 331.32 Q397.41 329.67 397.26 326.00 Q397.10 322.32 398.14 320.76 Q399.18 319.20 401.54 318.87 Q403.91 318.54 405.91 319.85 Q407.90 321.16 408.41 323.61 Z" fill="#13296a" opacity="0.8"/>
<path d="M406.27 322.57 Q407.45 324.65 406.62 327.07 Q405.80 329.49 404.07 331.16 Q402.34 332.82 401.35 332.09 Q400.36 331.37 399.23 329.42 Q398.09 327.48 398.05 325.57 Q398.01 323.67 399.25 321.90 Q400.48 320.14 401.77 319.44 Q403.06 318.75 404.08 319.62 Q405.10 320.50 406.27 322.57 Z" fill="#f1b79f"/>
<path d="M403.93 323.44 Q404.36 324.65 404.28 326.01 Q404.20 327.37 402.70 328.27 Q401.21 329.17 400.55 328.24 Q399.90 327.31 399.13 326.21 Q398.36 325.10 399.01 323.70 Q399.67 322.29 400.55 321.10 Q401.42 319.91 402.46 321.07 Q403.49 322.23 403.93 323.44 Z" fill="#fbe0d2"/>
<path d="M405.02 325.27 Q405.56 326.35 405.07 327.57 Q404.58 328.80 403.89 328.68 Q403.21 328.56 402.46 328.06 Q401.71 327.56 401.47 326.64 Q401.22 325.72 402.09 324.81 Q402.96 323.89 403.72 324.04 Q404.48 324.20 405.02 325.27 Z" fill="#e8795f" opacity="0.85"/>
<path d="M425.34 324.28 Q426.08 325.81 425.25 328.52 Q424.43 331.23 422.79 332.81 Q421.14 334.39 419.52 333.64 Q417.89 332.89 416.52 331.00 Q415.14 329.11 415.09 327.17 Q415.05 325.23 415.99 323.31 Q416.94 321.38 418.89 320.63 Q420.84 319.87 422.72 321.31 Q424.60 322.76 425.34 324.28 Z" fill="#13296a" opacity="0.8"/>
<path d="M423.32 324.19 Q423.65 326.20 423.15 327.74 Q422.66 329.28 421.64 330.20 Q420.62 331.11 418.91 331.18 Q417.20 331.26 416.48 330.00 Q415.76 328.75 416.02 326.26 Q416.29 323.78 417.10 322.32 Q417.91 320.86 419.23 320.26 Q420.54 319.66 421.76 320.92 Q422.99 322.19 423.32 324.19 Z" fill="#f1b79f"/>
<path d="M421.58 323.96 Q422.25 325.63 421.77 326.84 Q421.29 328.05 420.05 328.56 Q418.82 329.06 418.03 328.42 Q417.24 327.78 416.97 326.79 Q416.70 325.80 416.66 324.43 Q416.63 323.07 417.73 322.73 Q418.83 322.40 419.86 322.34 Q420.90 322.28 421.58 323.96 Z" fill="#fbe0d2"/>
<path d="M441.71 326.09 Q442.71 328.43 442.04 329.67 Q441.38 330.92 439.92 332.02 Q438.46 333.11 436.74 332.94 Q435.01 332.78 433.46 331.49 Q431.91 330.21 432.15 327.70 Q432.40 325.19 433.16 324.06 Q433.92 322.92 435.87 322.69 Q437.82 322.46 439.26 323.11 Q440.71 323.75 441.71 326.09 Z" fill="#13296a" opacity="0.8"/>
<path d="M440.70 325.76 Q440.90 327.17 440.53 328.41 Q440.15 329.66 439.04 330.32 Q437.93 330.97 436.52 331.00 Q435.12 331.03 434.33 329.97 Q433.55 328.90 433.29 327.49 Q433.02 326.07 433.85 324.73 Q434.68 323.39 436.23 323.11 Q437.79 322.82 439.14 323.58 Q440.50 324.35 440.70 325.76 Z" fill="#f1b79f"/>
<path d="M438.26 325.36 Q438.42 326.32 437.88 327.22 Q437.34 328.12 436.58 328.58 Q435.81 329.03 435.02 328.84 Q434.22 328.65 433.75 327.37 Q433.28 326.09 433.68 325.19 Q434.08 324.28 434.90 324.09 Q435.72 323.90 436.90 324.15 Q438.09 324.40 438.26 325.36 Z" fill="#fbe0d2"/>
<path d="M457.78 327.46 Q458.78 329.32 458.05 330.96 Q457.32 332.60 455.37 333.46 Q453.41 334.33 451.91 333.82 Q450.40 333.31 449.01 332.23 Q447.62 331.14 447.18 329.32 Q446.75 327.50 448.29 325.74 Q449.83 323.98 451.89 323.67 Q453.96 323.37 455.37 324.48 Q456.78 325.59 457.78 327.46 Z" fill="#13296a" opacity="0.8"/>
<path d="M456.53 326.96 Q457.15 328.60 456.45 329.77 Q455.76 330.93 454.23 331.36 Q452.70 331.79 451.26 331.60 Q449.83 331.40 449.12 330.69 Q448.42 329.98 448.41 328.32 Q448.39 326.66 449.14 325.25 Q449.89 323.85 451.42 324.03 Q452.96 324.22 454.44 324.77 Q455.91 325.32 456.53 326.96 Z" fill="#f1b79f"/>
<path d="M453.96 326.76 Q454.48 327.60 453.79 328.25 Q453.10 328.89 452.44 329.24 Q451.77 329.58 450.64 329.23 Q449.51 328.87 449.36 328.11 Q449.20 327.36 449.32 326.71 Q449.45 326.06 450.55 325.42 Q451.66 324.78 452.55 325.34 Q453.44 325.91 453.96 326.76 Z" fill="#fbe0d2"/>
<path d="M454.75 328.51 Q455.16 329.05 454.72 329.52 Q454.29 329.99 453.56 330.12 Q452.82 330.25 452.02 329.92 Q451.21 329.59 451.42 329.10 Q451.63 328.60 452.34 327.89 Q453.06 327.19 453.70 327.59 Q454.35 327.98 454.75 328.51 Z" fill="#e8795f" opacity="0.85"/>
<path d="M324.36 343.69 Q325.62 346.35 324.88 349.08 Q324.14 351.81 322.44 353.36 Q320.73 354.91 318.08 354.02 Q315.42 353.13 314.21 351.13 Q312.99 349.13 313.13 346.24 Q313.28 343.35 314.27 341.68 Q315.25 340.01 317.61 339.87 Q319.97 339.72 321.54 340.38 Q323.10 341.04 324.36 343.69 Z" fill="#13296a" opacity="0.8"/>
<path d="M323.04 344.60 Q323.18 346.40 322.81 348.28 Q322.45 350.15 321.10 352.05 Q319.76 353.95 318.14 353.69 Q316.53 353.44 315.38 350.71 Q314.24 347.98 314.00 345.55 Q313.76 343.12 315.21 341.85 Q316.67 340.58 317.91 340.24 Q319.16 339.90 321.02 341.35 Q322.89 342.80 323.04 344.60 Z" fill="#f1b79f"/>
<path d="M320.67 344.22 Q320.81 345.54 320.26 346.70 Q319.71 347.86 318.97 349.03 Q318.22 350.21 316.81 349.72 Q315.40 349.23 315.20 347.60 Q315.00 345.97 315.44 344.59 Q315.89 343.21 316.77 342.09 Q317.66 340.97 319.10 341.94 Q320.53 342.90 320.67 344.22 Z" fill="#fbe0d2"/>
<path d="M321.54 347.24 Q322.16 348.00 321.48 349.03 Q320.81 350.06 320.06 349.89 Q319.31 349.72 318.62 349.25 Q317.94 348.78 317.92 347.66 Q317.89 346.55 318.60 346.29 Q319.31 346.04 320.11 346.25 Q320.92 346.47 321.54 347.24 Z" fill="#e8795f" opacity="0.85"/>
<path d="M347.09 346.08 Q347.33 348.14 346.85 350.36 Q346.37 352.59 343.64 353.81 Q340.91 355.02 339.03 354.50 Q337.15 353.99 335.76 352.23 Q334.38 350.47 334.42 348.51 Q334.47 346.54 335.51 344.28 Q336.54 342.01 339.18 341.76 Q341.82 341.52 344.34 342.77 Q346.85 344.02 347.09 346.08 Z" fill="#13296a" opacity="0.8"/>
<path d="M344.43 345.54 Q345.15 347.52 344.68 349.02 Q344.20 350.52 342.74 351.56 Q341.27 352.60 339.62 352.56 Q337.97 352.51 336.11 351.13 Q334.24 349.74 334.74 347.49 Q335.24 345.24 336.25 343.89 Q337.25 342.53 339.09 342.29 Q340.93 342.06 342.32 342.81 Q343.71 343.56 344.43 345.54 Z" fill="#f1b79f"/>
<path d="M344.01 346.61 Q344.10 348.18 343.94 349.47 Q343.77 350.76 342.12 351.32 Q340.47 351.88 339.43 351.69 Q338.39 351.50 337.25 350.41 Q336.11 349.32 335.95 347.23 Q335.80 345.15 337.24 344.54 Q338.68 343.94 339.52 343.25 Q340.36 342.57 342.14 343.80 Q343.92 345.04 344.01 346.61 Z" fill="#e2645a"/>
<path d="M340.75 347.13 Q340.77 348.16 340.73 349.31 Q340.69 350.47 339.59 350.72 Q338.49 350.98 338.01 349.90 Q337.52 348.82 337.56 348.09 Q337.60 347.36 338.17 346.34 Q338.75 345.32 339.74 345.71 Q340.74 346.10 340.75 347.13 Z" fill="#c23a44"/>
<path d="M343.22 345.42 Q343.56 346.19 343.17 346.84 Q342.79 347.50 342.16 347.78 Q341.54 348.06 340.77 347.60 Q340.01 347.14 340.17 346.24 Q340.34 345.33 340.77 344.96 Q341.20 344.59 342.04 344.63 Q342.89 344.66 343.22 345.42 Z" fill="#f6c8b8"/>
<path d="M370.01 347.20 Q370.16 348.68 369.70 351.24 Q369.25 353.80 367.56 354.73 Q365.87 355.67 363.85 355.16 Q361.84 354.65 360.58 353.35 Q359.32 352.05 359.34 349.12 Q359.36 346.19 360.87 344.73 Q362.37 343.28 363.80 343.14 Q365.24 343.00 367.55 344.36 Q369.86 345.72 370.01 347.20 Z" fill="#13296a" opacity="0.8"/>
<path d="M367.82 347.07 Q368.17 348.53 368.09 350.53 Q368.00 352.53 366.53 353.15 Q365.05 353.77 363.18 353.91 Q361.30 354.05 360.93 352.40 Q360.57 350.76 360.20 348.98 Q359.82 347.21 361.05 345.79 Q362.28 344.37 363.90 343.73 Q365.52 343.08 366.49 344.34 Q367.46 345.60 367.82 347.07 Z" fill="#f1b79f"/>
<path d="M365.71 347.02 Q366.17 348.41 365.66 349.31 Q365.15 350.20 364.46 350.85 Q363.77 351.51 362.49 351.17 Q361.22 350.82 361.09 349.41 Q360.95 348.00 361.15 347.01 Q361.35 346.01 362.51 345.12 Q363.67 344.24 364.46 344.93 Q365.25 345.62 365.71 347.02 Z" fill="#fbe0d2"/>
<path d="M388.86 346.53 Q389.73 348.33 388.83 350.53 Q387.93 352.72 386.50 354.23 Q385.08 355.75 382.28 355.43 Q379.48 355.12 378.28 353.13 Q377.07 351.14 377.60 348.46 Q378.12 345.78 378.85 344.25 Q379.58 342.72 382.12 342.63 Q384.66 342.54 386.33 343.64 Q387.99 344.73 388.86 346.53 Z" fill="#13296a" opacity="0.8"/>
<path d="M387.09 346.01 Q387.34 348.19 386.74 349.71 Q386.13 351.24 385.01 352.60 Q383.89 353.95 382.05 353.26 Q380.21 352.57 379.38 351.05 Q378.54 349.53 378.15 347.97 Q377.75 346.41 379.30 344.73 Q380.86 343.06 381.92 342.76 Q382.99 342.46 384.91 343.14 Q386.83 343.83 387.09 346.01 Z" fill="#f1b79f"/>
<path d="M384.41 346.28 Q384.90 347.30 384.25 348.56 Q383.59 349.82 382.89 350.67 Q382.19 351.51 381.22 350.48 Q380.25 349.44 379.96 348.72 Q379.67 348.00 380.06 346.56 Q380.45 345.12 381.40 344.35 Q382.36 343.58 383.14 344.42 Q383.92 345.26 384.41 346.28 Z" fill="#fbe0d2"/>
<path d="M406.85 348.42 Q407.65 350.88 407.19 352.35 Q406.73 353.82 405.05 354.87 Q403.38 355.91 401.76 356.01 Q400.14 356.10 398.48 353.77 Q396.82 351.43 397.30 349.37 Q397.78 347.30 398.46 346.07 Q399.15 344.83 401.56 344.20 Q403.98 343.57 405.02 344.76 Q406.06 345.96 406.85 348.42 Z" fill="#13296a" opacity="0.8"/>
<path d="M405.09 347.81 Q405.89 349.29 405.07 351.03 Q404.26 352.77 403.17 353.82 Q402.08 354.87 400.56 354.39 Q399.05 353.91 398.49 352.41 Q397.93 350.90 397.89 349.44 Q397.86 347.98 399.01 346.69 Q400.16 345.41 401.12 344.66 Q402.08 343.91 403.18 345.12 Q404.29 346.33 405.09 347.81 Z" fill="#f1b79f"/>
<path d="M403.34 347.31 Q403.63 348.18 403.47 349.57 Q403.31 350.96 401.97 351.54 Q400.64 352.11 400.11 351.29 Q399.58 350.46 399.00 349.71 Q398.42 348.96 398.87 347.69 Q399.31 346.43 400.06 346.09 Q400.80 345.75 401.92 346.10 Q403.04 346.44 403.34 347.31 Z" fill="#fbe0d2"/>
<path d="M424.55 348.54 Q425.16 350.86 424.27 352.48 Q423.38 354.10 421.86 355.05 Q420.34 355.99 418.93 355.63 Q417.52 355.26 416.52 353.59 Q415.51 351.91 415.49 350.41 Q415.47 348.90 416.21 347.16 Q416.95 345.42 418.94 345.14 Q420.94 344.87 422.44 345.55 Q423.94 346.23 424.55 348.54 Z" fill="#13296a" opacity="0.8"/>
<path d="M422.69 348.62 Q422.88 349.81 422.56 351.52 Q422.23 353.23 420.91 353.52 Q419.59 353.81 418.54 354.01 Q417.49 354.21 416.46 352.64 Q415.44 351.07 415.78 349.99 Q416.12 348.90 416.82 347.69 Q417.52 346.47 419.10 345.89 Q420.68 345.31 421.59 346.37 Q422.49 347.42 422.69 348.62 Z" fill="#f1b79f"/>
<path d="M420.66 348.35 Q421.03 349.29 420.88 350.11 Q420.73 350.94 419.63 351.08 Q418.54 351.23 417.80 351.07 Q417.05 350.92 416.84 350.07 Q416.63 349.21 416.93 348.37 Q417.22 347.53 417.92 346.88 Q418.62 346.23 419.46 346.82 Q420.29 347.41 420.66 348.35 Z" fill="#fbe0d2"/>
<path d="M440.50 348.83 Q441.11 350.15 440.42 352.24 Q439.74 354.34 438.52 355.08 Q437.31 355.81 435.28 355.54 Q433.25 355.27 432.61 354.23 Q431.97 353.19 431.64 351.21 Q431.32 349.23 432.65 347.87 Q433.99 346.51 435.29 345.98 Q436.59 345.45 438.24 346.48 Q439.88 347.51 440.50 348.83 Z" fill="#13296a" opacity="0.8"/>
<path d="M439.57 348.64 Q440.16 350.03 439.52 351.42 Q438.89 352.81 437.70 353.50 Q436.52 354.20 434.77 354.16 Q433.03 354.13 432.73 352.92 Q432.44 351.71 432.46 350.25 Q432.47 348.80 432.72 347.74 Q432.96 346.68 434.66 346.26 Q436.35 345.83 437.66 346.54 Q438.97 347.24 439.57 348.64 Z" fill="#f1b79f"/>
<path d="M436.79 348.56 Q437.09 349.48 437.04 350.21 Q436.98 350.95 435.93 351.61 Q434.88 352.27 434.16 351.87 Q433.44 351.47 433.01 350.53 Q432.58 349.59 432.93 348.86 Q433.28 348.14 434.15 347.43 Q435.02 346.72 435.76 347.18 Q436.49 347.64 436.79 348.56 Z" fill="#fbe0d2"/>
<path d="M456.24 350.30 Q456.96 352.42 456.20 353.58 Q455.44 354.74 453.58 356.17 Q451.73 357.60 450.44 356.89 Q449.15 356.17 447.88 354.61 Q446.61 353.04 446.74 351.25 Q446.87 349.45 448.19 348.39 Q449.51 347.34 451.13 347.17 Q452.75 347.01 454.14 347.59 Q455.52 348.18 456.24 350.30 Z" fill="#13296a" opacity="0.8"/>
<path d="M454.30 350.19 Q454.49 351.66 454.29 352.62 Q454.09 353.59 452.86 354.39 Q451.63 355.19 450.60 354.97 Q449.57 354.76 448.17 353.67 Q446.78 352.58 446.94 351.50 Q447.11 350.42 448.34 349.29 Q449.57 348.15 450.75 347.99 Q451.93 347.84 453.02 348.28 Q454.11 348.72 454.30 350.19 Z" fill="#f1b79f"/>
<path d="M452.15 349.80 Q452.53 350.58 452.32 351.39 Q452.11 352.19 451.23 352.61 Q450.36 353.03 449.51 352.60 Q448.66 352.17 448.23 351.51 Q447.79 350.85 448.28 349.93 Q448.77 349.00 449.64 348.43 Q450.51 347.86 451.14 348.44 Q451.77 349.02 452.15 349.80 Z" fill="#fbe0d2"/>
<path d="M325.77 368.31 Q326.26 370.14 325.86 372.20 Q325.46 374.25 323.60 375.73 Q321.73 377.21 319.08 376.67 Q316.44 376.13 314.96 374.21 Q313.48 372.29 313.25 369.67 Q313.02 367.05 314.75 365.65 Q316.47 364.24 318.68 363.65 Q320.90 363.06 323.09 364.77 Q325.28 366.48 325.77 368.31 Z" fill="#13296a" opacity="0.8"/>
<path d="M324.79 368.41 Q325.88 370.37 324.84 372.35 Q323.79 374.34 322.38 375.42 Q320.96 376.50 318.43 376.13 Q315.89 375.76 315.02 373.30 Q314.15 370.83 313.68 368.73 Q313.22 366.62 314.53 365.77 Q315.84 364.91 318.16 364.58 Q320.49 364.25 322.09 365.35 Q323.70 366.45 324.79 368.41 Z" fill="#f1b79f"/>
<path d="M321.30 367.40 Q321.57 369.09 321.52 370.43 Q321.47 371.77 320.13 371.91 Q318.78 372.04 317.46 371.60 Q316.14 371.15 315.76 370.19 Q315.39 369.23 315.31 367.68 Q315.23 366.13 316.98 365.39 Q318.72 364.64 319.88 365.17 Q321.04 365.70 321.30 367.40 Z" fill="#fbe0d2"/>
<path d="M322.53 370.00 Q322.99 370.58 322.46 371.55 Q321.92 372.51 320.89 372.76 Q319.86 373.01 319.00 372.47 Q318.13 371.94 318.02 370.94 Q317.91 369.94 319.08 369.35 Q320.24 368.76 321.15 369.09 Q322.06 369.42 322.53 370.00 Z" fill="#e8795f" opacity="0.85"/>
<path d="M318.40 371.16 Q318.66 371.98 318.35 372.53 Q318.05 373.07 317.32 372.92 Q316.58 372.77 316.32 372.23 Q316.05 371.69 316.35 371.19 Q316.64 370.68 317.39 370.51 Q318.13 370.34 318.40 371.16 Z" fill="#e06a5a" opacity="0.8"/>
<path d="M346.37 368.60 Q347.69 371.08 346.62 372.83 Q345.55 374.59 343.91 375.75 Q342.26 376.91 339.24 376.72 Q336.22 376.52 334.46 374.92 Q332.70 373.31 332.96 371.35 Q333.22 369.39 335.09 367.39 Q336.96 365.40 338.62 364.88 Q340.28 364.36 342.67 365.24 Q345.05 366.13 346.37 368.60 Z" fill="#13296a" opacity="0.8"/>
<path d="M344.93 367.91 Q345.94 369.83 344.87 371.72 Q343.80 373.60 342.12 374.65 Q340.44 375.70 338.60 375.87 Q336.76 376.04 335.67 374.18 Q334.59 372.32 333.94 370.66 Q333.29 369.00 335.09 366.90 Q336.89 364.81 338.66 365.04 Q340.43 365.27 342.17 365.63 Q343.91 366.00 344.93 367.91 Z" fill="#f1b79f"/>
<path d="M341.88 368.22 Q342.51 369.56 341.98 370.68 Q341.44 371.80 339.89 372.38 Q338.35 372.96 337.17 372.63 Q335.99 372.31 335.52 371.13 Q335.04 369.94 335.72 368.74 Q336.40 367.54 337.37 366.76 Q338.34 365.99 339.79 366.44 Q341.24 366.89 341.88 368.22 Z" fill="#fbe0d2"/>
<path d="M343.10 370.71 Q343.17 371.61 343.06 372.26 Q342.96 372.91 341.76 373.19 Q340.55 373.47 339.88 372.72 Q339.20 371.98 339.14 371.35 Q339.09 370.72 339.60 369.95 Q340.11 369.19 341.57 369.50 Q343.04 369.81 343.10 370.71 Z" fill="#e8795f" opacity="0.85"/>
<path d="M338.73 371.51 Q339.23 372.02 338.66 372.66 Q338.09 373.30 337.34 373.25 Q336.58 373.20 336.39 372.75 Q336.19 372.30 336.47 371.88 Q336.75 371.46 337.49 371.24 Q338.23 371.01 338.73 371.51 Z" fill="#e06a5a" opacity="0.8"/>
<path d="M368.97 369.01 Q369.52 371.31 368.45 373.33 Q367.38 375.35 365.76 376.40 Q364.14 377.45 361.94 376.93 Q359.75 376.41 358.67 375.05 Q357.60 373.69 357.87 370.79 Q358.14 367.90 359.57 366.56 Q361.00 365.23 362.39 364.87 Q363.79 364.52 366.10 365.61 Q368.41 366.70 368.97 369.01 Z" fill="#13296a" opacity="0.8"/>
<path d="M366.72 368.87 Q367.22 370.68 366.52 372.38 Q365.82 374.07 364.94 375.20 Q364.06 376.32 362.02 375.78 Q359.98 375.24 358.70 373.71 Q357.41 372.17 357.55 370.22 Q357.68 368.27 358.99 366.54 Q360.30 364.82 361.90 364.65 Q363.50 364.48 364.85 365.77 Q366.21 367.07 366.72 368.87 Z" fill="#f1b79f"/>
<path d="M364.77 368.20 Q365.11 369.21 364.93 370.49 Q364.74 371.77 363.50 371.92 Q362.26 372.07 361.05 372.25 Q359.84 372.44 359.65 371.03 Q359.45 369.63 359.75 368.78 Q360.06 367.94 361.12 367.04 Q362.18 366.14 363.31 366.66 Q364.44 367.18 364.77 368.20 Z" fill="#fbe0d2"/>
<path d="M365.28 370.62 Q365.89 371.13 365.62 372.13 Q365.36 373.13 364.27 373.39 Q363.18 373.65 362.59 373.16 Q362.00 372.68 361.96 371.39 Q361.93 370.09 362.64 369.95 Q363.35 369.81 364.01 369.96 Q364.68 370.11 365.28 370.62 Z" fill="#e8795f" opacity="0.85"/>
<path d="M361.97 371.78 Q362.40 372.37 362.03 372.92 Q361.67 373.47 361.06 373.30 Q360.45 373.14 360.26 372.74 Q360.07 372.34 360.32 371.82 Q360.58 371.29 361.06 371.24 Q361.54 371.19 361.97 371.78 Z" fill="#e06a5a" opacity="0.8"/>
<path d="M388.32 371.25 Q388.99 372.60 388.62 374.78 Q388.26 376.95 386.28 377.93 Q384.30 378.91 381.71 378.44 Q379.12 377.97 377.95 376.40 Q376.77 374.83 376.85 373.52 Q376.92 372.22 378.26 370.22 Q379.60 368.22 381.72 367.84 Q383.83 367.46 385.74 368.67 Q387.65 369.89 388.32 371.25 Z" fill="#13296a" opacity="0.8"/>
<path d="M386.79 371.19 Q386.91 373.23 386.30 374.48 Q385.70 375.73 384.83 376.24 Q383.97 376.74 381.57 376.96 Q379.17 377.17 378.60 376.08 Q378.03 374.99 377.64 373.04 Q377.25 371.09 378.40 370.07 Q379.55 369.06 381.39 368.41 Q383.22 367.75 384.95 368.45 Q386.68 369.14 386.79 371.19 Z" fill="#f1b79f"/>
<path d="M384.23 371.23 Q384.60 371.85 384.25 372.92 Q383.90 373.99 383.04 374.39 Q382.19 374.79 380.91 374.57 Q379.64 374.35 378.96 373.09 Q378.28 371.82 379.03 370.99 Q379.78 370.16 380.74 369.80 Q381.71 369.45 382.79 370.03 Q383.87 370.62 384.23 371.23 Z" fill="#fbe0d2"/>
<path d="M385.29 373.14 Q385.32 373.87 385.17 374.32 Q385.02 374.78 384.05 375.03 Q383.09 375.28 382.35 374.96 Q381.62 374.64 381.77 373.89 Q381.91 373.13 382.60 372.52 Q383.28 371.90 384.28 372.16 Q385.27 372.42 385.29 373.14 Z" fill="#e8795f" opacity="0.85"/>
<path d="M381.55 373.93 Q381.88 374.37 381.73 374.87 Q381.59 375.37 380.77 375.37 Q379.94 375.36 379.71 374.94 Q379.49 374.51 379.82 373.98 Q380.15 373.46 380.68 373.48 Q381.22 373.50 381.55 373.93 Z" fill="#e06a5a" opacity="0.8"/>
<path d="M406.27 371.78 Q406.91 374.60 406.46 375.98 Q406.00 377.37 404.00 378.94 Q402.01 380.50 400.52 379.92 Q399.03 379.34 397.55 377.88 Q396.07 376.42 396.07 374.12 Q396.07 371.82 397.16 370.35 Q398.25 368.88 400.73 368.29 Q403.21 367.69 404.42 368.33 Q405.63 368.96 406.27 371.78 Z" fill="#13296a" opacity="0.8"/>
<path d="M404.88 371.47 Q405.29 372.71 404.76 375.09 Q404.22 377.47 402.75 377.87 Q401.28 378.27 400.01 378.20 Q398.74 378.13 397.87 376.76 Q397.00 375.38 397.00 373.67 Q397.00 371.95 397.55 370.26 Q398.10 368.56 399.99 368.45 Q401.88 368.34 403.18 369.28 Q404.47 370.22 404.88 371.47 Z" fill="#f1b79f"/>
<path d="M402.82 371.34 Q403.12 372.17 402.77 373.45 Q402.42 374.73 401.09 375.04 Q399.75 375.35 398.77 375.05 Q397.78 374.75 397.64 373.66 Q397.50 372.56 397.70 371.25 Q397.89 369.94 399.12 369.63 Q400.36 369.32 401.44 369.91 Q402.53 370.51 402.82 371.34 Z" fill="#fbe0d2"/>
<path d="M403.48 373.69 Q403.81 374.40 403.56 375.09 Q403.31 375.78 402.55 375.92 Q401.79 376.07 400.91 375.56 Q400.03 375.04 400.28 374.31 Q400.52 373.57 401.02 373.07 Q401.53 372.58 402.33 372.79 Q403.14 372.99 403.48 373.69 Z" fill="#e8795f" opacity="0.85"/>
<path d="M400.14 374.54 Q400.58 375.16 400.23 375.61 Q399.89 376.07 399.21 376.01 Q398.52 375.96 398.11 375.52 Q397.70 375.09 398.06 374.64 Q398.42 374.18 399.06 374.05 Q399.70 373.92 400.14 374.54 Z" fill="#e06a5a" opacity="0.8"/>
<path d="M423.72 371.52 Q424.47 374.17 424.03 375.39 Q423.60 376.61 421.59 377.97 Q419.59 379.32 417.58 378.92 Q415.57 378.52 414.21 376.68 Q412.86 374.84 412.73 373.14 Q412.60 371.43 413.86 369.97 Q415.12 368.51 417.29 367.96 Q419.47 367.42 421.22 368.14 Q422.98 368.87 423.72 371.52 Z" fill="#13296a" opacity="0.8"/>
<path d="M421.70 371.32 Q422.13 372.63 421.95 374.03 Q421.77 375.42 420.66 376.24 Q419.54 377.05 417.62 377.07 Q415.70 377.09 414.90 375.76 Q414.09 374.43 413.65 372.96 Q413.22 371.50 414.75 370.00 Q416.29 368.51 417.43 368.14 Q418.56 367.78 419.92 368.90 Q421.28 370.01 421.70 371.32 Z" fill="#f1b79f"/>
<path d="M419.90 371.05 Q420.62 371.67 419.99 372.92 Q419.36 374.16 418.39 374.45 Q417.43 374.73 416.30 374.57 Q415.17 374.41 414.75 373.27 Q414.33 372.12 414.82 370.90 Q415.31 369.68 416.34 369.62 Q417.37 369.55 418.28 369.99 Q419.18 370.42 419.90 371.05 Z" fill="#fbe0d2"/>
<path d="M420.68 373.13 Q421.01 373.87 420.59 374.41 Q420.17 374.95 419.57 375.05 Q418.97 375.15 418.42 374.75 Q417.86 374.35 417.57 373.77 Q417.28 373.18 418.04 372.76 Q418.81 372.34 419.58 372.36 Q420.35 372.38 420.68 373.13 Z" fill="#e8795f" opacity="0.85"/>
<path d="M417.36 373.86 Q417.71 374.39 417.33 374.82 Q416.96 375.25 416.29 375.30 Q415.62 375.36 415.36 374.96 Q415.10 374.57 415.51 373.96 Q415.93 373.35 416.47 373.34 Q417.01 373.33 417.36 373.86 Z" fill="#e06a5a" opacity="0.8"/>
<path d="M440.41 370.36 Q440.71 372.65 440.69 374.41 Q440.66 376.16 438.21 377.47 Q435.76 378.78 434.23 378.49 Q432.70 378.21 430.91 376.76 Q429.11 375.31 429.26 372.91 Q429.41 370.51 430.94 368.23 Q432.46 365.95 433.98 365.62 Q435.49 365.30 437.79 366.69 Q440.10 368.08 440.41 370.36 Z" fill="#13296a" opacity="0.8"/>
<path d="M438.99 370.37 Q440.12 372.11 439.27 374.11 Q438.42 376.11 437.16 376.77 Q435.89 377.43 433.83 377.17 Q431.76 376.90 430.51 375.46 Q429.26 374.02 429.72 372.00 Q430.18 369.98 431.09 368.89 Q431.99 367.79 433.61 367.47 Q435.24 367.15 436.55 367.89 Q437.87 368.63 438.99 370.37 Z" fill="#f1b79f"/>
<path d="M436.55 369.86 Q436.90 370.99 436.59 372.30 Q436.28 373.61 435.30 374.10 Q434.32 374.59 432.95 373.96 Q431.57 373.33 430.93 372.08 Q430.28 370.82 430.94 369.86 Q431.60 368.90 432.88 368.64 Q434.15 368.38 435.18 368.55 Q436.20 368.72 436.55 369.86 Z" fill="#fbe0d2"/>
<path d="M456.52 371.42 Q457.15 372.70 456.44 374.84 Q455.74 376.98 454.06 377.76 Q452.39 378.54 450.09 378.08 Q447.79 377.63 446.55 376.03 Q445.31 374.43 445.21 372.91 Q445.11 371.39 446.23 370.21 Q447.35 369.04 449.54 368.80 Q451.73 368.56 453.81 369.35 Q455.89 370.14 456.52 371.42 Z" fill="#13296a" opacity="0.8"/>
<path d="M454.70 371.34 Q455.28 372.49 454.82 373.82 Q454.37 375.15 452.56 375.70 Q450.76 376.24 449.17 375.98 Q447.58 375.71 446.81 374.84 Q446.04 373.97 445.52 372.65 Q444.99 371.33 446.44 370.27 Q447.89 369.21 449.44 369.27 Q450.98 369.34 452.56 369.76 Q454.13 370.18 454.70 371.34 Z" fill="#f1b79f"/>
<path d="M452.70 371.36 Q453.15 372.10 452.77 372.75 Q452.39 373.41 450.86 373.79 Q449.34 374.17 448.65 373.87 Q447.97 373.57 447.49 372.92 Q447.01 372.28 447.37 371.25 Q447.72 370.23 448.79 369.92 Q449.86 369.61 451.06 370.11 Q452.25 370.62 452.70 371.36 Z" fill="#fbe0d2"/>
<path d="M453.54 372.98 Q453.78 373.59 453.32 374.14 Q452.86 374.68 452.02 374.66 Q451.18 374.64 450.51 374.34 Q449.85 374.05 450.06 373.52 Q450.27 373.00 450.72 372.79 Q451.17 372.57 452.24 372.47 Q453.31 372.37 453.54 372.98 Z" fill="#e8795f" opacity="0.85"/>
<path d="M449.64 373.69 Q449.82 374.13 449.53 374.54 Q449.24 374.94 448.66 374.83 Q448.08 374.71 447.77 374.42 Q447.45 374.14 447.72 373.79 Q447.99 373.44 448.73 373.35 Q449.47 373.26 449.64 373.69 Z" fill="#e06a5a" opacity="0.8"/>
<path d="M323.92 392.66 Q324.61 394.24 324.03 396.49 Q323.46 398.74 321.46 400.55 Q319.46 402.36 317.55 401.58 Q315.64 400.81 314.90 399.66 Q314.16 398.51 313.79 395.46 Q313.43 392.41 315.18 390.52 Q316.93 388.63 318.35 388.63 Q319.77 388.63 321.51 389.85 Q323.24 391.08 323.92 392.66 Z" fill="#13296a" opacity="0.8"/>
<path d="M322.32 392.39 Q322.20 394.08 322.34 395.97 Q322.47 397.86 321.20 399.48 Q319.94 401.10 318.26 400.89 Q316.58 400.68 315.88 398.75 Q315.17 396.82 314.99 394.62 Q314.81 392.42 315.79 391.12 Q316.77 389.83 317.73 389.01 Q318.69 388.19 320.57 389.45 Q322.45 390.71 322.32 392.39 Z" fill="#f1b79f"/>
<path d="M319.93 392.50 Q320.07 394.00 319.94 395.26 Q319.81 396.52 318.82 397.17 Q317.84 397.81 316.76 397.34 Q315.69 396.87 315.65 395.25 Q315.61 393.62 315.54 392.63 Q315.48 391.63 316.75 391.30 Q318.02 390.97 318.90 390.99 Q319.78 391.01 319.93 392.50 Z" fill="#fbe0d2"/>
<path d="M344.32 393.60 Q344.79 394.97 343.86 397.07 Q342.93 399.17 341.56 400.35 Q340.18 401.53 338.22 401.27 Q336.26 401.00 335.04 399.68 Q333.83 398.37 333.73 396.05 Q333.64 393.74 335.05 392.05 Q336.47 390.36 338.14 389.87 Q339.80 389.39 341.83 390.81 Q343.86 392.24 344.32 393.60 Z" fill="#13296a" opacity="0.8"/>
<path d="M342.41 393.37 Q342.51 395.09 342.60 396.53 Q342.68 397.97 340.86 399.12 Q339.04 400.27 337.76 399.84 Q336.47 399.42 335.16 397.75 Q333.84 396.09 334.30 394.71 Q334.75 393.33 335.37 391.86 Q335.99 390.39 337.56 390.17 Q339.12 389.96 340.71 390.81 Q342.30 391.65 342.41 393.37 Z" fill="#f1b79f"/>
<path d="M340.18 393.33 Q340.22 394.43 339.98 395.07 Q339.74 395.70 338.80 396.39 Q337.86 397.08 336.65 396.66 Q335.43 396.25 335.12 395.44 Q334.81 394.63 335.33 393.19 Q335.85 391.74 336.85 391.70 Q337.85 391.67 338.99 391.95 Q340.13 392.23 340.18 393.33 Z" fill="#fbe0d2"/>
<path d="M363.32 394.12 Q363.90 395.70 363.16 396.96 Q362.41 398.23 361.09 399.40 Q359.76 400.57 358.37 400.35 Q356.99 400.12 355.85 398.28 Q354.70 396.44 354.66 394.96 Q354.61 393.49 355.69 392.39 Q356.77 391.30 358.13 390.76 Q359.48 390.23 361.11 391.39 Q362.74 392.55 363.32 394.12 Z" fill="#13296a" opacity="0.8"/>
<path d="M361.63 393.27 Q362.21 394.29 361.46 395.76 Q360.71 397.24 359.89 398.14 Q359.08 399.03 357.77 398.45 Q356.46 397.87 355.84 397.02 Q355.22 396.16 355.38 395.05 Q355.53 393.93 355.97 392.72 Q356.40 391.51 357.68 391.23 Q358.96 390.96 360.01 391.61 Q361.05 392.26 361.63 393.27 Z" fill="#f1b79f"/>
<path d="M359.48 393.22 Q359.51 393.81 359.25 394.75 Q358.99 395.68 358.53 395.99 Q358.06 396.30 357.24 395.76 Q356.41 395.22 356.12 394.58 Q355.82 393.94 356.21 393.34 Q356.60 392.73 357.03 392.06 Q357.45 391.39 358.44 392.01 Q359.44 392.63 359.48 393.22 Z" fill="#fbe0d2"/>
<path d="M369.38 393.77 Q369.72 395.49 369.12 397.12 Q368.53 398.74 367.01 399.57 Q365.49 400.40 363.96 400.00 Q362.43 399.60 361.92 398.41 Q361.42 397.22 361.25 395.73 Q361.08 394.23 361.90 393.04 Q362.72 391.85 364.47 391.13 Q366.23 390.41 367.63 391.23 Q369.04 392.04 369.38 393.77 Z" fill="#13296a" opacity="0.8"/>
<path d="M367.28 393.91 Q367.70 395.18 367.48 396.15 Q367.26 397.12 366.58 397.94 Q365.91 398.76 364.60 398.43 Q363.29 398.11 362.19 397.08 Q361.09 396.05 361.43 394.75 Q361.78 393.45 362.51 392.75 Q363.24 392.05 364.63 391.44 Q366.02 390.84 366.44 391.74 Q366.86 392.64 367.28 393.91 Z" fill="#f1b79f"/>
<path d="M365.81 393.29 Q366.08 393.86 365.84 394.88 Q365.61 395.91 364.77 395.81 Q363.93 395.70 363.14 395.58 Q362.35 395.46 361.97 394.67 Q361.59 393.89 362.12 393.40 Q362.66 392.91 363.48 392.23 Q364.29 391.55 364.92 392.13 Q365.54 392.72 365.81 393.29 Z" fill="#fbe0d2"/>
<path d="M387.58 394.66 Q388.45 396.54 387.75 397.75 Q387.04 398.96 385.23 399.86 Q383.43 400.77 381.26 400.56 Q379.09 400.35 377.89 399.31 Q376.68 398.28 376.71 396.47 Q376.74 394.67 378.07 393.49 Q379.39 392.31 380.81 391.79 Q382.23 391.27 384.47 392.03 Q386.70 392.78 387.58 394.66 Z" fill="#13296a" opacity="0.8"/>
<path d="M386.34 394.94 Q387.09 396.24 386.34 397.01 Q385.58 397.77 384.37 398.74 Q383.16 399.72 380.80 399.28 Q378.45 398.84 377.76 397.93 Q377.07 397.01 377.04 395.64 Q377.02 394.26 378.23 393.62 Q379.43 392.98 380.66 392.85 Q381.89 392.72 383.74 393.18 Q385.60 393.63 386.34 394.94 Z" fill="#f1b79f"/>
<path d="M383.66 393.91 Q384.34 394.74 383.70 395.53 Q383.06 396.32 382.07 396.60 Q381.09 396.89 379.82 396.56 Q378.56 396.23 378.14 395.72 Q377.73 395.21 377.92 394.29 Q378.12 393.38 379.25 392.96 Q380.37 392.53 381.68 392.80 Q382.98 393.08 383.66 393.91 Z" fill="#fbe0d2"/>
<path d="M405.02 395.33 Q405.45 396.64 404.91 398.03 Q404.37 399.42 403.04 400.17 Q401.71 400.92 399.80 401.00 Q397.90 401.08 396.48 399.26 Q395.06 397.44 395.33 396.38 Q395.61 395.33 397.10 393.77 Q398.60 392.21 400.15 392.01 Q401.71 391.80 403.14 392.91 Q404.58 394.02 405.02 395.33 Z" fill="#13296a" opacity="0.8"/>
<path d="M403.07 394.78 Q403.78 396.12 403.29 396.83 Q402.79 397.53 401.55 398.53 Q400.30 399.52 399.34 399.31 Q398.37 399.09 397.41 397.82 Q396.45 396.55 396.58 395.58 Q396.70 394.62 397.09 393.57 Q397.48 392.53 399.16 392.54 Q400.85 392.55 401.60 393.00 Q402.36 393.44 403.07 394.78 Z" fill="#f1b79f"/>
<path d="M401.43 394.40 Q401.77 395.07 401.36 395.66 Q400.95 396.25 400.08 396.78 Q399.21 397.32 398.27 396.87 Q397.33 396.41 397.29 395.79 Q397.26 395.16 397.50 394.30 Q397.73 393.44 398.58 393.34 Q399.44 393.24 400.26 393.48 Q401.08 393.72 401.43 394.40 Z" fill="#fbe0d2"/>
<path d="M419.57 395.67 Q420.24 397.39 419.46 398.47 Q418.69 399.56 417.21 400.47 Q415.73 401.38 414.33 400.88 Q412.93 400.39 412.07 399.66 Q411.22 398.93 411.33 397.27 Q411.44 395.60 412.25 394.32 Q413.06 393.03 414.34 392.71 Q415.62 392.39 417.26 393.17 Q418.91 393.94 419.57 395.67 Z" fill="#13296a" opacity="0.8"/>
<path d="M418.03 395.30 Q418.50 395.90 418.05 397.41 Q417.59 398.93 416.69 399.33 Q415.80 399.73 414.56 399.59 Q413.33 399.45 412.53 398.73 Q411.72 398.01 411.91 396.39 Q412.09 394.76 412.72 394.09 Q413.35 393.41 414.43 393.48 Q415.52 393.55 416.53 394.13 Q417.55 394.71 418.03 395.30 Z" fill="#f1b79f"/>
<path d="M416.02 394.77 Q416.01 395.35 416.03 396.13 Q416.05 396.91 415.29 397.00 Q414.54 397.09 413.75 396.85 Q412.96 396.62 412.58 396.20 Q412.19 395.79 412.53 394.95 Q412.87 394.10 413.64 394.00 Q414.40 393.89 415.22 394.05 Q416.04 394.20 416.02 394.77 Z" fill="#fbe0d2"/>
<path d="M425.33 395.17 Q425.78 396.34 425.41 398.03 Q425.03 399.72 423.78 400.32 Q422.53 400.91 420.99 400.73 Q419.44 400.55 418.16 399.46 Q416.88 398.37 416.93 397.10 Q416.98 395.83 418.30 394.49 Q419.61 393.15 421.22 392.76 Q422.82 392.37 423.85 393.18 Q424.88 394.00 425.33 395.17 Z" fill="#13296a" opacity="0.8"/>
<path d="M424.34 395.49 Q424.41 396.63 424.23 397.59 Q424.05 398.56 422.67 398.94 Q421.29 399.32 420.45 399.18 Q419.61 399.03 418.48 398.33 Q417.34 397.63 417.43 396.19 Q417.52 394.76 418.47 393.91 Q419.43 393.07 420.28 393.08 Q421.14 393.08 422.71 393.72 Q424.28 394.36 424.34 395.49 Z" fill="#f1b79f"/>
<path d="M422.25 394.75 Q422.34 395.36 421.99 396.08 Q421.65 396.79 420.97 396.91 Q420.28 397.04 419.56 396.94 Q418.84 396.84 418.68 396.28 Q418.51 395.73 418.70 394.79 Q418.89 393.85 419.74 393.71 Q420.59 393.56 421.38 393.85 Q422.17 394.13 422.25 394.75 Z" fill="#fbe0d2"/>
<path d="M422.81 396.64 Q422.89 397.04 422.72 397.40 Q422.56 397.76 422.04 397.84 Q421.52 397.92 420.94 397.73 Q420.36 397.53 420.58 397.00 Q420.80 396.47 421.18 396.16 Q421.57 395.85 422.15 396.04 Q422.73 396.23 422.81 396.64 Z" fill="#e8795f" opacity="0.85"/>
<path d="M438.68 394.41 Q439.51 396.10 439.08 397.65 Q438.65 399.20 436.67 400.30 Q434.69 401.41 433.52 401.14 Q432.36 400.87 431.25 399.42 Q430.14 397.97 430.08 396.63 Q430.02 395.30 430.92 393.80 Q431.83 392.30 433.43 391.96 Q435.02 391.63 436.44 392.17 Q437.86 392.71 438.68 394.41 Z" fill="#13296a" opacity="0.8"/>
<path d="M437.08 394.65 Q437.81 396.20 437.36 397.31 Q436.92 398.42 435.97 399.07 Q435.03 399.72 433.60 399.44 Q432.16 399.16 431.34 398.07 Q430.52 396.97 430.63 395.88 Q430.75 394.80 431.31 393.73 Q431.88 392.67 433.20 392.30 Q434.53 391.93 435.43 392.51 Q436.34 393.09 437.08 394.65 Z" fill="#f1b79f"/>
<path d="M435.19 394.24 Q435.34 395.21 435.12 395.90 Q434.89 396.58 434.18 397.10 Q433.48 397.63 432.55 397.23 Q431.61 396.83 431.51 396.01 Q431.41 395.19 431.66 394.25 Q431.90 393.32 432.46 393.12 Q433.01 392.91 434.03 393.09 Q435.04 393.26 435.19 394.24 Z" fill="#fbe0d2"/>
<path d="M429.5 368 A6.2 6.6 0 0 1 440.5 369" fill="none" stroke="#cfe6ff" stroke-width="1"/>
<path d="M445 370 A6.2 5 0 0 1 456 370.5" fill="none" stroke="#cfe6ff" stroke-width="1"/>
<text x="1.40" y="432.90" font-size="10.5" text-anchor="start" fill="#111" font-weight="bold" >D</text>
<line x1="51.40" y1="458.00" x2="51.40" y2="567.50" stroke="#111" stroke-width="1.1" />
<line x1="50.90" y1="567.30" x2="172.80" y2="567.30" stroke="#111" stroke-width="1.1" />
<line x1="48.70" y1="563.10" x2="51.40" y2="563.10" stroke="#111" stroke-width="1" />
<text x="45.80" y="565.60" font-size="8.1" text-anchor="end" fill="#222" font-weight="normal" >0</text>
<line x1="48.70" y1="537.80" x2="51.40" y2="537.80" stroke="#111" stroke-width="1" />
<text x="45.80" y="540.30" font-size="8.1" text-anchor="end" fill="#222" font-weight="normal" >5</text>
<line x1="48.70" y1="511.90" x2="51.40" y2="511.90" stroke="#111" stroke-width="1" />
<text x="45.80" y="514.40" font-size="8.1" text-anchor="end" fill="#222" font-weight="normal" >10</text>
<line x1="48.70" y1="486.00" x2="51.40" y2="486.00" stroke="#111" stroke-width="1" />
<text x="45.80" y="488.50" font-size="8.1" text-anchor="end" fill="#222" font-weight="normal" >15</text>
<line x1="48.70" y1="460.90" x2="51.40" y2="460.90" stroke="#111" stroke-width="1" />
<text x="45.80" y="463.40" font-size="8.1" text-anchor="end" fill="#222" font-weight="normal" >20</text>
<text x="0" y="0" font-size="9" text-anchor="middle" fill="#222" class="ax" transform="translate(30.4 512.9) rotate(-90) scale(0.8 1)">WBC (10<tspan font-size="5" dy="-2.5">9</tspan><tspan dy="2.5">/μL)</tspan></text>
<line x1="71.6" y1="490.2" x2="71.6" y2="509.3" stroke="#4b5060" stroke-width="0.9" stroke-dasharray="1.8 1.2"/>
<line x1="71.6" y1="523.8" x2="71.6" y2="538.6" stroke="#4b5060" stroke-width="0.9" stroke-dasharray="1.8 1.2"/>
<line x1="66.40" y1="490.20" x2="76.80" y2="490.20" stroke="#4b5060" stroke-width="0.9" />
<line x1="66.40" y1="538.60" x2="76.80" y2="538.60" stroke="#4b5060" stroke-width="0.9" />
<rect x="61.60" y="509.3" width="20" height="14.50" fill="#9ea2b4" stroke="#8c90a2" stroke-width="0.6"/>
<line x1="61.60" y1="514.50" x2="81.60" y2="514.50" stroke="#4b5060" stroke-width="1.2" />
<line x1="71.60" y1="567.30" x2="71.60" y2="571.00" stroke="#111" stroke-width="1" />
<text x="0" y="0" font-size="8.2" text-anchor="end" fill="#222" transform="translate(70.70 578.5) rotate(-45)">Vehicle</text>
<line x1="100.6" y1="521.6" x2="100.6" y2="528.9" stroke="#c8102e" stroke-width="0.9" stroke-dasharray="1.8 1.2"/>
<line x1="100.6" y1="547.6" x2="100.6" y2="557.8" stroke="#c8102e" stroke-width="0.9" stroke-dasharray="1.8 1.2"/>
<line x1="95.40" y1="521.60" x2="105.80" y2="521.60" stroke="#c8102e" stroke-width="0.9" />
<line x1="95.40" y1="557.80" x2="105.80" y2="557.80" stroke="#c8102e" stroke-width="0.9" />
<rect x="90.60" y="528.9" width="20" height="18.70" fill="#ea8a7f" stroke="#dd7468" stroke-width="0.6"/>
<line x1="90.60" y1="541.30" x2="110.60" y2="541.30" stroke="#c8102e" stroke-width="1.2" />
<line x1="100.60" y1="567.30" x2="100.60" y2="571.00" stroke="#111" stroke-width="1" />
<text x="0" y="0" font-size="8.2" text-anchor="end" fill="#222" transform="translate(99.70 578.5) rotate(-45)">OR21</text>
<line x1="129.4" y1="511.6" x2="129.4" y2="515.3" stroke="#30a838" stroke-width="0.9" stroke-dasharray="1.8 1.2"/>
<line x1="129.4" y1="528.5" x2="129.4" y2="529.6" stroke="#30a838" stroke-width="0.9" stroke-dasharray="1.8 1.2"/>
<line x1="124.20" y1="511.60" x2="134.60" y2="511.60" stroke="#30a838" stroke-width="0.9" />
<line x1="124.20" y1="529.60" x2="134.60" y2="529.60" stroke="#30a838" stroke-width="0.9" />
<rect x="119.40" y="515.3" width="20" height="13.20" fill="#a6da9c" stroke="#8fcf84" stroke-width="0.6"/>
<line x1="119.40" y1="520.80" x2="139.40" y2="520.80" stroke="#30a838" stroke-width="1.2" />
<line x1="129.40" y1="567.30" x2="129.40" y2="571.00" stroke="#111" stroke-width="1" />
<text x="0" y="0" font-size="8.2" text-anchor="end" fill="#222" transform="translate(128.50 578.5) rotate(-45)">EPZ</text>
<line x1="158.6" y1="538.8" x2="158.6" y2="545.3" stroke="#1d4f8c" stroke-width="0.9" stroke-dasharray="1.8 1.2"/>
<line x1="158.6" y1="550.4" x2="158.6" y2="554.3" stroke="#1d4f8c" stroke-width="0.9" stroke-dasharray="1.8 1.2"/>
<line x1="153.40" y1="538.80" x2="163.80" y2="538.80" stroke="#1d4f8c" stroke-width="0.9" />
<line x1="153.40" y1="554.30" x2="163.80" y2="554.30" stroke="#1d4f8c" stroke-width="0.9" />
<rect x="148.60" y="545.3" width="20" height="5.10" fill="#7f92c2" stroke="#6d80b2" stroke-width="0.6"/>
<line x1="148.60" y1="548.10" x2="168.60" y2="548.10" stroke="#1d4f8c" stroke-width="1.2" />
<line x1="158.60" y1="567.30" x2="158.60" y2="571.00" stroke="#111" stroke-width="1" />
<text x="0" y="0" font-size="8.2" text-anchor="end" fill="#222" transform="translate(157.70 578.5) rotate(-45)">OR21+EPZ</text>
<line x1="68.60" y1="434.10" x2="156.30" y2="434.10" stroke="#555" stroke-width="1.1" />
<line x1="68.60" y1="442.40" x2="96.40" y2="442.40" stroke="#555" stroke-width="1.1" />
<line x1="96.40" y1="449.10" x2="156.30" y2="449.10" stroke="#555" stroke-width="1.1" />
<circle cx="111.0" cy="428.8" r="1.15" fill="#222"/>
<circle cx="114.6" cy="428.8" r="1.15" fill="#222"/>
<circle cx="82.4" cy="448.4" r="1.15" fill="#222"/>
<text x="126.40" y="446.80" font-size="7.0" text-anchor="middle" fill="#333" font-weight="normal" >n.s.</text>
<circle cx="129.3" cy="482.7" r="0.9" fill="#4a6a4a"/>
<circle cx="72.1" cy="508.5" r="0.95" fill="#4b5060"/>
<circle cx="71.7" cy="523.9" r="0.95" fill="#4b5060"/>
<circle cx="71.6" cy="490.2" r="0.95" fill="#4b5060"/>
<circle cx="71.6" cy="538.6" r="0.95" fill="#4b5060"/>
<circle cx="100.3" cy="531.8" r="0.95" fill="#c8102e"/>
<circle cx="101.7" cy="547.1" r="0.95" fill="#c8102e"/>
<circle cx="100.6" cy="521.6" r="0.95" fill="#c8102e"/>
<circle cx="100.6" cy="557.8" r="0.95" fill="#c8102e"/>
<circle cx="129.4" cy="518.2" r="0.95" fill="#30a838"/>
<circle cx="129.4" cy="526.5" r="0.95" fill="#30a838"/>
<circle cx="129.4" cy="511.6" r="0.95" fill="#30a838"/>
<circle cx="158.9" cy="541.5" r="0.95" fill="#1d4f8c"/>
<circle cx="158.9" cy="548.1" r="0.95" fill="#1d4f8c"/>
<circle cx="158.9" cy="552.5" r="0.95" fill="#1d4f8c"/>
<line x1="227.30" y1="458.50" x2="227.30" y2="567.50" stroke="#111" stroke-width="1.1" />
<line x1="226.80" y1="567.30" x2="343.40" y2="567.30" stroke="#111" stroke-width="1.1" />
<line x1="224.60" y1="563.30" x2="227.30" y2="563.30" stroke="#111" stroke-width="1" />
<text x="221.30" y="565.80" font-size="8.1" text-anchor="end" fill="#222" font-weight="normal" >12.0</text>
<line x1="224.60" y1="533.80" x2="227.30" y2="533.80" stroke="#111" stroke-width="1" />
<text x="221.30" y="536.30" font-size="8.1" text-anchor="end" fill="#222" font-weight="normal" >13.0</text>
<line x1="224.60" y1="504.20" x2="227.30" y2="504.20" stroke="#111" stroke-width="1" />
<text x="221.30" y="506.70" font-size="8.1" text-anchor="end" fill="#222" font-weight="normal" >14.0</text>
<line x1="224.60" y1="474.40" x2="227.30" y2="474.40" stroke="#111" stroke-width="1" />
<text x="221.30" y="476.90" font-size="8.1" text-anchor="end" fill="#222" font-weight="normal" >15.0</text>
<text x="0" y="0" font-size="9" text-anchor="middle" fill="#222" class="ax" transform="translate(198.6 512.5) rotate(-90) scale(0.8 1)">HGB (g/dL)</text>
<line x1="245.8" y1="465.8" x2="245.8" y2="486.8" stroke="#4b5060" stroke-width="0.9" stroke-dasharray="1.8 1.2"/>
<line x1="245.8" y1="514.4" x2="245.8" y2="522.1" stroke="#4b5060" stroke-width="0.9" stroke-dasharray="1.8 1.2"/>
<line x1="240.60" y1="465.80" x2="251.00" y2="465.80" stroke="#4b5060" stroke-width="0.9" />
<line x1="240.60" y1="522.10" x2="251.00" y2="522.10" stroke="#4b5060" stroke-width="0.9" />
<rect x="235.80" y="486.8" width="20" height="27.60" fill="#9ea2b4" stroke="#8c90a2" stroke-width="0.6"/>
<line x1="235.80" y1="505.30" x2="255.80" y2="505.30" stroke="#4b5060" stroke-width="1.2" />
<line x1="245.80" y1="567.30" x2="245.80" y2="571.00" stroke="#111" stroke-width="1" />
<text x="0" y="0" font-size="8.2" text-anchor="end" fill="#222" transform="translate(244.90 578.5) rotate(-45)">Vehicle</text>
<line x1="274.6" y1="504.2" x2="274.6" y2="516.5" stroke="#c8102e" stroke-width="0.9" stroke-dasharray="1.8 1.2"/>
<line x1="274.6" y1="528.8" x2="274.6" y2="536.8" stroke="#c8102e" stroke-width="0.9" stroke-dasharray="1.8 1.2"/>
<line x1="269.40" y1="504.20" x2="279.80" y2="504.20" stroke="#c8102e" stroke-width="0.9" />
<line x1="269.40" y1="536.80" x2="279.80" y2="536.80" stroke="#c8102e" stroke-width="0.9" />
<rect x="264.60" y="516.5" width="20" height="12.30" fill="#ea8a7f" stroke="#dd7468" stroke-width="0.6"/>
<line x1="264.60" y1="525.20" x2="284.60" y2="525.20" stroke="#c8102e" stroke-width="1.2" />
<line x1="274.60" y1="567.30" x2="274.60" y2="571.00" stroke="#111" stroke-width="1" />
<text x="0" y="0" font-size="8.2" text-anchor="end" fill="#222" transform="translate(273.70 578.5) rotate(-45)">OR21</text>
<line x1="303.4" y1="465.8" x2="303.4" y2="475.6" stroke="#30a838" stroke-width="0.9" stroke-dasharray="1.8 1.2"/>
<line x1="303.4" y1="505.2" x2="303.4" y2="519" stroke="#30a838" stroke-width="0.9" stroke-dasharray="1.8 1.2"/>
<line x1="298.20" y1="465.80" x2="308.60" y2="465.80" stroke="#30a838" stroke-width="0.9" />
<line x1="298.20" y1="519.00" x2="308.60" y2="519.00" stroke="#30a838" stroke-width="0.9" />
<rect x="293.40" y="475.6" width="20" height="29.60" fill="#a6da9c" stroke="#8fcf84" stroke-width="0.6"/>
<line x1="293.40" y1="480.20" x2="313.40" y2="480.20" stroke="#30a838" stroke-width="1.2" />
<line x1="303.40" y1="567.30" x2="303.40" y2="571.00" stroke="#111" stroke-width="1" />
<text x="0" y="0" font-size="8.2" text-anchor="end" fill="#222" transform="translate(302.50 578.5) rotate(-45)">EPZ</text>
<line x1="331.8" y1="483.6" x2="331.8" y2="490.4" stroke="#1d4f8c" stroke-width="0.9" stroke-dasharray="1.8 1.2"/>
<line x1="331.8" y1="554.1" x2="331.8" y2="566.4" stroke="#1d4f8c" stroke-width="0.9" stroke-dasharray="1.8 1.2"/>
<line x1="326.60" y1="483.60" x2="337.00" y2="483.60" stroke="#1d4f8c" stroke-width="0.9" />
<line x1="326.60" y1="566.40" x2="337.00" y2="566.40" stroke="#1d4f8c" stroke-width="0.9" />
<rect x="321.80" y="490.4" width="20" height="63.70" fill="#7f92c2" stroke="#6d80b2" stroke-width="0.6"/>
<line x1="321.80" y1="514.10" x2="341.80" y2="514.10" stroke="#1d4f8c" stroke-width="1.2" />
<line x1="331.80" y1="567.30" x2="331.80" y2="571.00" stroke="#111" stroke-width="1" />
<text x="0" y="0" font-size="8.2" text-anchor="end" fill="#222" transform="translate(330.90 578.5) rotate(-45)">OR21+EPZ</text>
<line x1="246.50" y1="432.90" x2="334.80" y2="432.90" stroke="#555" stroke-width="1.1" />
<line x1="246.50" y1="440.90" x2="274.20" y2="440.90" stroke="#555" stroke-width="1.1" />
<line x1="274.20" y1="447.70" x2="334.80" y2="447.70" stroke="#555" stroke-width="1.1" />
<text x="290.20" y="429.30" font-size="7.0" text-anchor="middle" fill="#333" font-weight="normal" >n.s.</text>
<text x="304.40" y="444.70" font-size="7.0" text-anchor="middle" fill="#333" font-weight="normal" >n.s.</text>
<text x="260.40" y="451.70" font-size="7.0" text-anchor="middle" fill="#333" font-weight="normal" >n.s.</text>
<circle cx="245.8" cy="466" r="0.95" fill="#4b5060"/>
<circle cx="245.8" cy="474.2" r="0.95" fill="#4b5060"/>
<circle cx="245.8" cy="498.5" r="0.95" fill="#4b5060"/>
<circle cx="245.8" cy="504.4" r="0.95" fill="#4b5060"/>
<circle cx="245.8" cy="506.6" r="0.95" fill="#4b5060"/>
<circle cx="245.8" cy="513.3" r="0.95" fill="#4b5060"/>
<circle cx="245.8" cy="517" r="0.95" fill="#4b5060"/>
<circle cx="274.6" cy="504.4" r="0.95" fill="#c8102e"/>
<circle cx="274.6" cy="519.2" r="0.95" fill="#c8102e"/>
<circle cx="274.6" cy="528.7" r="0.95" fill="#c8102e"/>
<circle cx="274.6" cy="531.7" r="0.95" fill="#c8102e"/>
<circle cx="274.6" cy="536.9" r="0.95" fill="#c8102e"/>
<circle cx="303.4" cy="466" r="0.95" fill="#30a838"/>
<circle cx="303.4" cy="478" r="0.95" fill="#30a838"/>
<circle cx="303.4" cy="483.9" r="0.95" fill="#30a838"/>
<circle cx="303.4" cy="492.4" r="0.95" fill="#30a838"/>
<circle cx="303.4" cy="509.7" r="0.95" fill="#30a838"/>
<circle cx="303.4" cy="519" r="0.95" fill="#30a838"/>
<circle cx="331.8" cy="483.7" r="0.95" fill="#1d4f8c"/>
<circle cx="331.8" cy="492.7" r="0.95" fill="#1d4f8c"/>
<circle cx="331.8" cy="536.7" r="0.95" fill="#1d4f8c"/>
<circle cx="331.8" cy="554.1" r="0.95" fill="#1d4f8c"/>
<circle cx="331.8" cy="566" r="0.95" fill="#1d4f8c"/>
<line x1="224.60" y1="459.20" x2="227.30" y2="459.20" stroke="#111" stroke-width="1" />
<line x1="224.60" y1="489.90" x2="227.30" y2="489.90" stroke="#111" stroke-width="1" />
<line x1="224.60" y1="519.20" x2="227.30" y2="519.20" stroke="#111" stroke-width="1" />
<line x1="224.60" y1="549.30" x2="227.30" y2="549.30" stroke="#111" stroke-width="1" />
<line x1="398.70" y1="456.80" x2="398.70" y2="567.50" stroke="#111" stroke-width="1.1" />
<line x1="398.20" y1="567.30" x2="520.00" y2="567.30" stroke="#111" stroke-width="1.1" />
<line x1="396.00" y1="551.60" x2="398.70" y2="551.60" stroke="#111" stroke-width="1" />
<text x="392.30" y="554.10" font-size="8.1" text-anchor="end" fill="#222" font-weight="normal" >50</text>
<line x1="396.00" y1="528.50" x2="398.70" y2="528.50" stroke="#111" stroke-width="1" />
<text x="392.30" y="531.00" font-size="8.1" text-anchor="end" fill="#222" font-weight="normal" >60</text>
<line x1="396.00" y1="505.50" x2="398.70" y2="505.50" stroke="#111" stroke-width="1" />
<text x="392.30" y="508.00" font-size="8.1" text-anchor="end" fill="#222" font-weight="normal" >70</text>
<line x1="396.00" y1="482.40" x2="398.70" y2="482.40" stroke="#111" stroke-width="1" />
<text x="392.30" y="484.90" font-size="8.1" text-anchor="end" fill="#222" font-weight="normal" >80</text>
<text x="0" y="0" font-size="9" text-anchor="middle" fill="#222" class="ax" transform="translate(377.0 512.1) rotate(-90) scale(0.8 1)">PLT (10<tspan font-size="5" dy="-2.5">9</tspan><tspan dy="2.5">/μL)</tspan></text>
<line x1="417.7" y1="464.9" x2="417.7" y2="483.2" stroke="#4b5060" stroke-width="0.9" stroke-dasharray="1.8 1.2"/>
<line x1="417.7" y1="511.7" x2="417.7" y2="526.9" stroke="#4b5060" stroke-width="0.9" stroke-dasharray="1.8 1.2"/>
<line x1="412.50" y1="464.90" x2="422.90" y2="464.90" stroke="#4b5060" stroke-width="0.9" />
<line x1="412.50" y1="526.90" x2="422.90" y2="526.90" stroke="#4b5060" stroke-width="0.9" />
<rect x="407.70" y="483.2" width="20" height="28.50" fill="#9ea2b4" stroke="#8c90a2" stroke-width="0.6"/>
<line x1="407.70" y1="498.40" x2="427.70" y2="498.40" stroke="#4b5060" stroke-width="1.2" />
<line x1="417.70" y1="567.30" x2="417.70" y2="571.00" stroke="#111" stroke-width="1" />
<text x="0" y="0" font-size="8.2" text-anchor="end" fill="#222" transform="translate(416.80 578.5) rotate(-45)">Vehicle</text>
<line x1="446.4" y1="469.2" x2="446.4" y2="496.2" stroke="#c8102e" stroke-width="0.9" stroke-dasharray="1.8 1.2"/>
<line x1="446.4" y1="535.8" x2="446.4" y2="560.3" stroke="#c8102e" stroke-width="0.9" stroke-dasharray="1.8 1.2"/>
<line x1="441.20" y1="469.20" x2="451.60" y2="469.20" stroke="#c8102e" stroke-width="0.9" />
<line x1="441.20" y1="560.30" x2="451.60" y2="560.30" stroke="#c8102e" stroke-width="0.9" />
<rect x="436.40" y="496.2" width="20" height="39.60" fill="#ea8a7f" stroke="#dd7468" stroke-width="0.6"/>
<line x1="436.40" y1="508.20" x2="456.40" y2="508.20" stroke="#c8102e" stroke-width="1.2" />
<line x1="446.40" y1="567.30" x2="446.40" y2="571.00" stroke="#111" stroke-width="1" />
<text x="0" y="0" font-size="8.2" text-anchor="end" fill="#222" transform="translate(445.50 578.5) rotate(-45)">OR21</text>
<line x1="475.4" y1="480.5" x2="475.4" y2="486" stroke="#30a838" stroke-width="0.9" stroke-dasharray="1.8 1.2"/>
<line x1="475.4" y1="496.2" x2="475.4" y2="513.1" stroke="#30a838" stroke-width="0.9" stroke-dasharray="1.8 1.2"/>
<line x1="470.20" y1="480.50" x2="480.60" y2="480.50" stroke="#30a838" stroke-width="0.9" />
<line x1="470.20" y1="513.10" x2="480.60" y2="513.10" stroke="#30a838" stroke-width="0.9" />
<rect x="465.40" y="486" width="20" height="10.20" fill="#a6da9c" stroke="#8fcf84" stroke-width="0.6"/>
<line x1="465.40" y1="490.60" x2="485.40" y2="490.60" stroke="#30a838" stroke-width="1.2" />
<line x1="475.40" y1="567.30" x2="475.40" y2="571.00" stroke="#111" stroke-width="1" />
<text x="0" y="0" font-size="8.2" text-anchor="end" fill="#222" transform="translate(474.50 578.5) rotate(-45)">EPZ</text>
<line x1="504.2" y1="472.2" x2="504.2" y2="495.2" stroke="#1d4f8c" stroke-width="0.9" stroke-dasharray="1.8 1.2"/>
<line x1="504.2" y1="530.5" x2="504.2" y2="535.3" stroke="#1d4f8c" stroke-width="0.9" stroke-dasharray="1.8 1.2"/>
<line x1="499.00" y1="472.20" x2="509.40" y2="472.20" stroke="#1d4f8c" stroke-width="0.9" />
<line x1="499.00" y1="535.30" x2="509.40" y2="535.30" stroke="#1d4f8c" stroke-width="0.9" />
<rect x="494.20" y="495.2" width="20" height="35.30" fill="#7f92c2" stroke="#6d80b2" stroke-width="0.6"/>
<line x1="494.20" y1="515.30" x2="514.20" y2="515.30" stroke="#1d4f8c" stroke-width="1.2" />
<line x1="504.20" y1="567.30" x2="504.20" y2="571.00" stroke="#111" stroke-width="1" />
<text x="0" y="0" font-size="8.2" text-anchor="end" fill="#222" transform="translate(503.30 578.5) rotate(-45)">OR21+EPZ</text>
<line x1="417.90" y1="434.00" x2="505.50" y2="434.00" stroke="#555" stroke-width="1.1" />
<line x1="417.90" y1="442.00" x2="445.60" y2="442.00" stroke="#555" stroke-width="1.1" />
<line x1="445.60" y1="448.60" x2="505.50" y2="448.60" stroke="#555" stroke-width="1.1" />
<text x="461.10" y="431.30" font-size="7.0" text-anchor="middle" fill="#333" font-weight="normal" >n.s.</text>
<text x="475.70" y="446.20" font-size="7.0" text-anchor="middle" fill="#333" font-weight="normal" >n.s.</text>
<text x="431.70" y="452.80" font-size="7.0" text-anchor="middle" fill="#333" font-weight="normal" >n.s.</text>
<circle cx="417.7" cy="464.9" r="0.95" fill="#4b5060"/>
<circle cx="417.7" cy="474.8" r="0.95" fill="#4b5060"/>
<circle cx="417.7" cy="490.8" r="0.95" fill="#4b5060"/>
<circle cx="417.7" cy="494.2" r="0.95" fill="#4b5060"/>
<circle cx="418.5" cy="502.2" r="0.95" fill="#4b5060"/>
<circle cx="419.5" cy="504.4" r="0.95" fill="#4b5060"/>
<circle cx="417.7" cy="519.2" r="0.95" fill="#4b5060"/>
<circle cx="417.7" cy="526.9" r="0.95" fill="#4b5060"/>
<circle cx="446.4" cy="469.2" r="0.95" fill="#c8102e"/>
<circle cx="446.4" cy="484.2" r="0.95" fill="#c8102e"/>
<circle cx="446.4" cy="508.4" r="0.95" fill="#c8102e"/>
<circle cx="446.4" cy="521" r="0.95" fill="#c8102e"/>
<circle cx="446.4" cy="552.2" r="0.95" fill="#c8102e"/>
<circle cx="446.4" cy="560.3" r="0.95" fill="#c8102e"/>
<circle cx="475.4" cy="480.5" r="0.95" fill="#30a838"/>
<circle cx="475.4" cy="489.9" r="0.95" fill="#30a838"/>
<circle cx="475.4" cy="491.2" r="0.95" fill="#30a838"/>
<circle cx="475.4" cy="496.9" r="0.95" fill="#30a838"/>
<circle cx="475.4" cy="513.1" r="0.95" fill="#30a838"/>
<circle cx="504.2" cy="472.2" r="0.95" fill="#1d4f8c"/>
<circle cx="504.2" cy="494.6" r="0.95" fill="#1d4f8c"/>
<circle cx="504.2" cy="504.4" r="0.95" fill="#1d4f8c"/>
<circle cx="504.2" cy="526.7" r="0.95" fill="#1d4f8c"/>
<circle cx="504.2" cy="530.5" r="0.95" fill="#1d4f8c"/>
<circle cx="504.2" cy="535.3" r="0.95" fill="#1d4f8c"/>
<line x1="395.80" y1="459.40" x2="398.70" y2="459.40" stroke="#111" stroke-width="1" />
</svg>
</body></html>
